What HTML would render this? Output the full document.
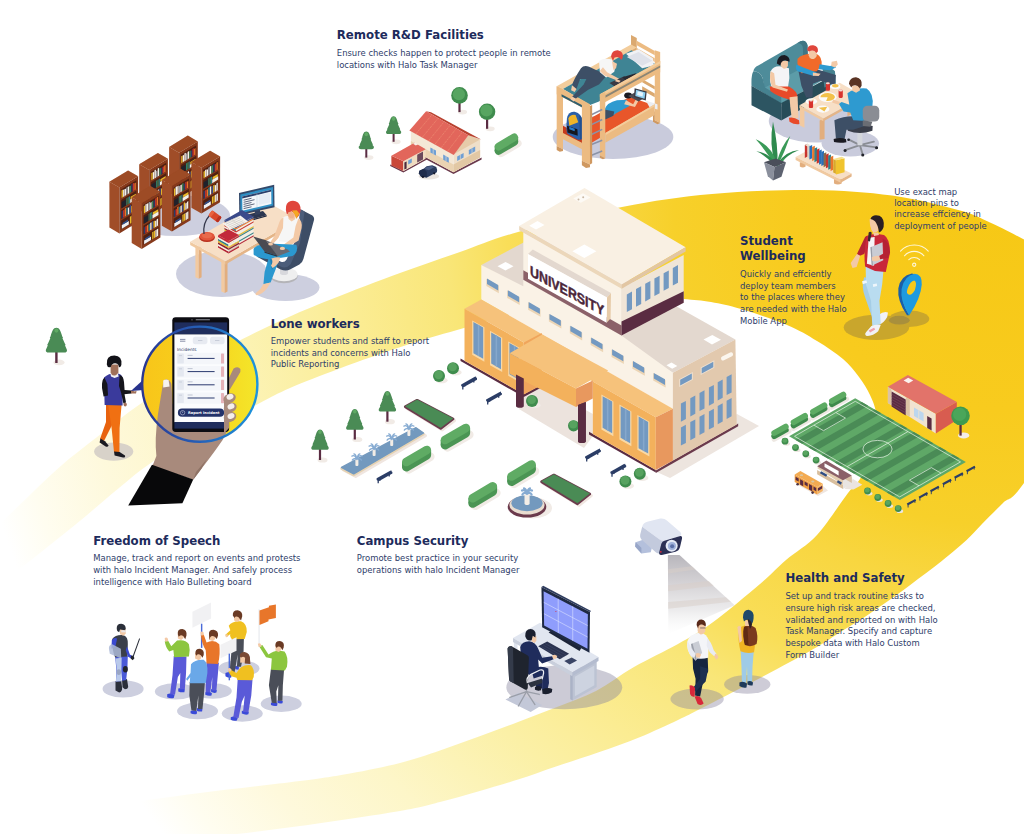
<!DOCTYPE html>
<html lang="en"><head><meta charset="utf-8"><title>Halo University Campus</title>
<style>
html,body{margin:0;padding:0;background:#fff;}
body{width:1024px;height:834px;overflow:hidden;}
svg{display:block;}
text{font-family:"DejaVu Sans","Liberation Sans",sans-serif;}
.h{font-weight:bold;font-size:11.75px;fill:#1d2b5c;}
.b{font-size:8.45px;fill:#2e3d6a;}
</style></head><body>
<svg width="1024" height="834" viewBox="0 0 1024 834">
<!-- swoosh -->
<g>
<defs>
<radialGradient id="sw" gradientUnits="userSpaceOnUse" cx="1000" cy="200" r="1050">
<stop offset="0" stop-color="#f6c815"/>
<stop offset="0.2" stop-color="#f8cb1e"/>
<stop offset="0.31" stop-color="#f7d02a"/>
<stop offset="0.37" stop-color="#f8d640"/>
<stop offset="0.47" stop-color="#f9de58"/>
<stop offset="0.53" stop-color="#f9e678"/>
<stop offset="0.62" stop-color="#fbec92"/>
<stop offset="0.69" stop-color="#fbf0a6"/>
<stop offset="0.8" stop-color="#fdf6c8"/>
<stop offset="0.89" stop-color="#fef9dc"/>
<stop offset="0.96" stop-color="#fffdf0"/>
<stop offset="1" stop-color="#ffffff"/>
</radialGradient>
</defs>
<path d="M-40.0,562.0C-33.3,555.7 -9.9,533.5 0.0,524.0C9.9,514.5 9.7,514.4 19.5,505.0C29.3,495.6 45.6,479.3 58.6,467.9C71.6,456.5 84.0,447.3 97.7,436.6C111.4,425.9 125.2,414.4 140.6,403.8C156.0,393.2 175.1,382.6 190.0,373.0C204.9,363.4 214.8,354.8 230.0,346.0C245.2,337.2 264.0,328.3 281.0,320.5C298.0,312.7 312.2,306.9 332.0,299.0C351.8,291.1 378.7,280.8 400.0,273.0C421.3,265.2 440.3,258.8 460.0,252.0C479.7,245.2 491.0,239.5 518.0,232.0C545.0,224.5 589.7,213.3 622.0,207.0C654.3,200.7 680.3,196.8 712.0,194.0C743.7,191.2 782.0,189.7 812.0,190.0C842.0,190.3 867.3,192.2 892.0,195.6C916.7,199.0 943.7,206.1 960.0,210.6C976.3,215.1 979.3,217.8 990.0,222.6C1000.7,227.4 1007.3,230.8 1024.0,239.5C1040.7,248.2 1079.0,269.1 1090.0,275.0L1090.0,380.0C1079.0,397.2 1038.5,462.5 1024.0,483.0C1009.5,503.5 1010.0,496.2 1003.0,503.0C996.0,509.8 988.1,517.8 982.0,524.0C975.9,530.2 972.0,534.9 966.6,540.0C961.2,545.1 954.9,550.2 949.4,554.8C943.9,559.3 939.0,563.3 933.8,567.3C928.5,571.3 923.2,575.1 918.0,579.0C912.8,582.9 907.7,587.0 902.5,590.8C897.3,594.6 892.2,598.1 887.0,601.7C881.8,605.4 876.2,609.2 871.0,612.7C865.8,616.2 860.8,619.5 855.6,622.8C850.4,626.0 846.4,628.2 840.0,632.2C833.6,636.2 827.3,641.0 817.0,647.0C806.7,653.0 791.0,661.5 778.0,668.5C765.0,675.5 752.0,682.2 739.0,689.0C726.0,695.8 710.2,703.8 700.0,709.0C689.8,714.2 688.2,715.2 678.0,720.0C667.8,724.8 652.3,732.1 639.0,737.5C625.7,742.9 611.8,747.7 598.0,752.5C584.2,757.3 569.3,762.0 556.0,766.5C542.7,771.0 531.0,775.4 518.0,779.6C505.0,783.8 491.0,787.8 478.0,791.5C465.0,795.2 453.0,798.8 440.0,802.0C427.0,805.2 423.3,807.0 400.0,811.0C376.7,815.0 333.3,821.5 300.0,826.0C266.7,830.5 233.3,834.7 200.0,838.0C166.7,841.3 140.0,843.7 100.0,846.0C60.0,848.3 -16.7,851.0 -40.0,852.0L-40.0,822.0C-16.7,819.3 60.0,810.8 100.0,806.0C140.0,801.2 166.7,797.2 200.0,793.0C233.3,788.8 275.0,784.2 300.0,781.0C325.0,777.8 333.3,776.5 350.0,773.5C366.7,770.5 385.0,766.8 400.0,763.0C415.0,759.2 426.8,754.9 440.0,750.5C453.2,746.1 466.0,741.2 479.0,736.5C492.0,731.8 505.0,726.9 518.0,722.0C531.0,717.1 544.0,712.2 557.0,707.0C570.0,701.8 583.2,697.7 596.0,691.0C608.8,684.3 620.3,674.8 634.0,667.0C647.7,659.2 664.9,651.4 678.0,644.0C691.1,636.6 698.8,632.5 712.5,622.5C726.2,612.5 747.8,594.4 760.0,584.0C772.2,573.6 776.5,568.2 786.0,560.0C795.5,551.8 806.7,546.2 817.0,535.0C827.3,523.8 840.8,502.3 848.0,493.0C855.2,483.7 856.0,485.3 860.0,479.0C864.0,472.7 869.0,462.8 872.0,455.0C875.0,447.2 877.3,439.2 878.0,432.0C878.7,424.8 877.3,418.2 876.0,412.0C874.7,405.8 872.8,400.8 870.0,395.0C867.2,389.2 863.5,383.0 859.0,377.0C854.5,371.0 850.0,365.0 843.0,359.0C836.0,353.0 826.3,346.7 817.0,341.0C807.7,335.3 799.7,330.3 787.0,325.0C774.3,319.7 753.7,312.8 741.0,309.0C728.3,305.2 720.7,303.7 711.0,302.0C701.3,300.3 694.8,300.0 683.0,299.0C671.2,298.0 653.8,296.2 640.0,296.0C626.2,295.8 613.3,296.7 600.0,298.0C586.7,299.3 573.3,301.7 560.0,304.0C546.7,306.3 536.0,308.0 520.0,312.0C504.0,316.0 482.7,322.6 464.0,328.0C445.3,333.4 428.8,337.8 408.0,344.6C387.2,351.4 358.7,361.5 339.0,368.7C319.3,375.9 303.5,382.1 290.0,388.0C276.5,393.9 273.0,396.3 258.0,404.0C243.0,411.7 217.6,424.3 200.0,434.0C182.4,443.7 166.1,452.8 152.3,462.0C138.5,471.2 129.6,479.3 117.2,489.4C104.8,499.5 90.9,512.0 78.0,522.6C65.1,533.2 53.0,542.8 40.0,553.0C27.0,563.2 13.3,573.8 0.0,584.0C-13.3,594.2 -33.3,609.0 -40.0,614.0Z" fill="url(#sw)"/>
</g>
<!-- library -->
<g>
<ellipse cx="176" cy="215.5" rx="54" ry="20.5" fill="#cdcfdf"/>
<ellipse cx="222" cy="274" rx="46" ry="23" fill="#cdcfdf"/>
<ellipse cx="285.5" cy="287.5" rx="34" ry="13.5" fill="#cdcfdf"/>
<polygon points="169.1,146.9 179.1,152.7 179.1,198.5 169.1,192.7" fill="#a04d28" />
<polygon points="179.1,152.7 197.8,141.4 197.8,187.2 179.1,198.5" fill="#86391b" />
<polygon points="180.8,154.7 196.1,145.4 196.1,154.1 180.8,163.4" fill="#4f2012" />
<polygon points="181.2,156.2 182.6,155.4 182.6,162.3 181.2,163.2" fill="#e9b92a" />
<polygon points="182.8,155.6 184.2,154.8 184.2,161.3 182.8,162.2" fill="#f4f1ea" />
<polygon points="184.4,153.6 185.8,152.8 185.8,160.4 184.4,161.2" fill="#f4f1ea" />
<polygon points="186.0,153.8 187.4,153.0 187.4,159.4 186.0,160.2" fill="#9aa0a8" />
<polygon points="187.6,151.9 189.0,151.1 189.0,158.4 187.6,159.2" fill="#f4f1ea" />
<polygon points="189.3,151.3 190.7,150.4 190.7,157.4 189.3,158.3" fill="#3f8a5a" />
<polygon points="190.9,150.9 192.3,150.1 192.3,156.4 190.9,157.3" fill="#2a3a6a" />
<polygon points="192.5,149.0 193.9,148.2 193.9,155.5 192.5,156.3" fill="#c8342e" />
<polygon points="194.1,149.0 195.5,148.1 195.5,154.5 194.1,155.3" fill="#e8762a" />
<polygon points="180.8,165.0 196.1,155.7 196.1,164.4 180.8,173.7" fill="#4f2012" />
<polygon points="181.3,167.1 185.6,164.5 185.6,170.7 181.3,173.3" fill="#1f222c" />
<polygon points="186.0,163.5 187.0,162.9 187.0,169.9 186.0,170.5" fill="#2f7f6a" />
<polygon points="187.3,162.7 188.4,162.1 188.4,169.1 187.3,169.7" fill="#3f8a5a" />
<polygon points="188.6,161.9 189.7,161.3 189.7,168.3 188.6,168.9" fill="#2f7f8a" />
<polygon points="190.3,161.9 195.6,158.8 195.6,161.4 190.3,164.5" fill="#e9b92a" />
<polygon points="189.9,164.7 195.9,161.1 195.9,164.5 189.9,168.1" fill="#f4f1ea" />
<polygon points="180.8,175.3 196.1,166.0 196.1,174.7 180.8,184.0" fill="#4f2012" />
<polygon points="181.2,176.6 182.6,175.8 182.6,182.9 181.2,183.8" fill="#2a3a6a" />
<polygon points="182.8,176.4 184.2,175.5 184.2,181.9 182.8,182.8" fill="#c8342e" />
<polygon points="184.4,175.4 185.8,174.5 185.8,181.0 184.4,181.8" fill="#e8762a" />
<polygon points="186.0,173.7 187.4,172.9 187.4,180.0 186.0,180.8" fill="#2f7f8a" />
<polygon points="187.6,171.9 189.0,171.1 189.0,179.0 187.6,179.8" fill="#f4f1ea" />
<polygon points="189.3,172.3 190.7,171.5 190.7,178.0 189.3,178.9" fill="#3a4a8a" />
<polygon points="190.9,171.2 192.3,170.3 192.3,177.0 190.9,177.9" fill="#e9b92a" />
<polygon points="192.5,169.4 193.9,168.5 193.9,176.1 192.5,176.9" fill="#f4f1ea" />
<polygon points="194.1,167.8 195.5,166.9 195.5,175.1 194.1,175.9" fill="#f4f1ea" />
<polygon points="180.8,185.6 196.1,176.3 196.1,185.0 180.8,194.3" fill="#4f2012" />
<polygon points="181.5,190.2 188.4,186.0 188.4,189.6 181.5,193.8" fill="#eef0f4" />
<polygon points="182.3,188.0 187.7,184.7 187.7,186.5 182.3,189.8" fill="#2f4f8a" />
<polygon points="189.6,181.8 190.9,181.0 190.9,188.2 189.6,189.0" fill="#e9b92a" />
<polygon points="191.2,180.8 192.5,180.0 192.5,187.2 191.2,188.0" fill="#e9b92a" />
<polygon points="192.8,179.9 194.1,179.1 194.1,186.3 192.8,187.1" fill="#f4f1ea" />
<polygon points="194.3,178.9 195.6,178.1 195.6,185.3 194.3,186.1" fill="#f4f1ea" />
<polygon points="169.1,146.9 187.8,135.6 197.8,141.4 179.1,152.7" fill="#97461f" />
<polygon points="169.1,146.9 187.8,135.6 197.8,141.4 179.1,152.7" fill="#a85630" opacity="0.35"/>
<polygon points="139.2,164.2 149.2,170.0 149.2,215.8 139.2,210.0" fill="#a04d28" />
<polygon points="149.2,170.0 167.9,158.7 167.9,204.5 149.2,215.8" fill="#86391b" />
<polygon points="150.9,172.0 166.2,162.7 166.2,171.4 150.9,180.7" fill="#4f2012" />
<polygon points="151.3,173.0 152.7,172.2 152.7,179.6 151.3,180.5" fill="#e9b92a" />
<polygon points="152.9,172.4 154.3,171.6 154.3,178.6 152.9,179.5" fill="#f4f1ea" />
<polygon points="154.5,170.3 155.9,169.4 155.9,177.7 154.5,178.5" fill="#f4f1ea" />
<polygon points="156.1,171.2 157.5,170.3 157.5,176.7 156.1,177.5" fill="#9aa0a8" />
<polygon points="157.7,168.6 159.1,167.7 159.1,175.7 157.7,176.5" fill="#f4f1ea" />
<polygon points="159.4,168.7 160.8,167.9 160.8,174.7 159.4,175.6" fill="#3f8a5a" />
<polygon points="161.0,168.0 162.4,167.2 162.4,173.7 161.0,174.6" fill="#2a3a6a" />
<polygon points="162.6,167.1 164.0,166.3 164.0,172.8 162.6,173.6" fill="#c8342e" />
<polygon points="164.2,165.7 165.6,164.9 165.6,171.8 164.2,172.6" fill="#e8762a" />
<polygon points="150.9,182.3 166.2,173.0 166.2,181.7 150.9,191.0" fill="#4f2012" />
<polygon points="151.4,184.4 155.7,181.8 155.7,188.0 151.4,190.6" fill="#1f222c" />
<polygon points="156.1,180.8 157.1,180.2 157.1,187.2 156.1,187.8" fill="#2f7f6a" />
<polygon points="157.4,180.0 158.5,179.4 158.5,186.4 157.4,187.0" fill="#3f8a5a" />
<polygon points="158.7,179.2 159.8,178.6 159.8,185.6 158.7,186.2" fill="#2f7f8a" />
<polygon points="160.4,179.2 165.7,176.1 165.7,178.7 160.4,181.8" fill="#e9b92a" />
<polygon points="160.0,182.0 166.0,178.4 166.0,181.8 160.0,185.4" fill="#f4f1ea" />
<polygon points="150.9,192.6 166.2,183.3 166.2,192.0 150.9,201.3" fill="#4f2012" />
<polygon points="151.3,193.2 152.7,192.3 152.7,200.2 151.3,201.1" fill="#2a3a6a" />
<polygon points="152.9,193.5 154.3,192.6 154.3,199.2 152.9,200.1" fill="#c8342e" />
<polygon points="154.5,191.7 155.9,190.8 155.9,198.3 154.5,199.1" fill="#e8762a" />
<polygon points="156.1,190.6 157.5,189.7 157.5,197.3 156.1,198.1" fill="#2f7f8a" />
<polygon points="157.7,190.1 159.1,189.3 159.1,196.3 157.7,197.1" fill="#f4f1ea" />
<polygon points="159.4,188.8 160.8,188.0 160.8,195.3 159.4,196.2" fill="#3a4a8a" />
<polygon points="161.0,188.8 162.4,187.9 162.4,194.3 161.0,195.2" fill="#e9b92a" />
<polygon points="162.6,187.8 164.0,187.0 164.0,193.4 162.6,194.2" fill="#f4f1ea" />
<polygon points="164.2,186.5 165.6,185.7 165.6,192.4 164.2,193.2" fill="#f4f1ea" />
<polygon points="150.9,202.9 166.2,193.6 166.2,202.3 150.9,211.6" fill="#4f2012" />
<polygon points="151.6,207.5 158.5,203.3 158.5,206.9 151.6,211.1" fill="#eef0f4" />
<polygon points="152.4,205.3 157.8,202.0 157.8,203.8 152.4,207.1" fill="#2f4f8a" />
<polygon points="159.7,199.1 161.0,198.3 161.0,205.5 159.7,206.3" fill="#e9b92a" />
<polygon points="161.3,198.1 162.6,197.3 162.6,204.5 161.3,205.3" fill="#e9b92a" />
<polygon points="162.9,197.2 164.2,196.4 164.2,203.6 162.9,204.4" fill="#f4f1ea" />
<polygon points="164.4,196.2 165.7,195.4 165.7,202.6 164.4,203.4" fill="#f4f1ea" />
<polygon points="139.2,164.2 157.9,152.9 167.9,158.7 149.2,170.0" fill="#97461f" />
<polygon points="139.2,164.2 157.9,152.9 167.9,158.7 149.2,170.0" fill="#a85630" opacity="0.35"/>
<polygon points="109.4,181.8 119.4,187.6 119.4,233.4 109.4,227.6" fill="#a04d28" />
<polygon points="119.4,187.6 138.1,176.3 138.1,222.1 119.4,233.4" fill="#86391b" />
<polygon points="121.1,189.6 136.4,180.3 136.4,189.0 121.1,198.3" fill="#4f2012" />
<polygon points="121.5,190.4 122.9,189.6 122.9,197.2 121.5,198.1" fill="#e9b92a" />
<polygon points="123.1,190.0 124.5,189.1 124.5,196.2 123.1,197.1" fill="#f4f1ea" />
<polygon points="124.7,189.2 126.1,188.4 126.1,195.3 124.7,196.1" fill="#f4f1ea" />
<polygon points="126.3,187.7 127.7,186.8 127.7,194.3 126.3,195.1" fill="#9aa0a8" />
<polygon points="127.9,187.0 129.3,186.1 129.3,193.3 127.9,194.1" fill="#f4f1ea" />
<polygon points="129.6,186.3 131.0,185.5 131.0,192.3 129.6,193.2" fill="#3f8a5a" />
<polygon points="131.2,184.3 132.6,183.5 132.6,191.3 131.2,192.2" fill="#2a3a6a" />
<polygon points="132.8,183.5 134.2,182.7 134.2,190.4 132.8,191.2" fill="#c8342e" />
<polygon points="134.4,183.5 135.8,182.6 135.8,189.4 134.4,190.2" fill="#e8762a" />
<polygon points="121.1,199.9 136.4,190.6 136.4,199.3 121.1,208.6" fill="#4f2012" />
<polygon points="121.6,202.0 125.9,199.4 125.9,205.6 121.6,208.2" fill="#1f222c" />
<polygon points="126.3,198.4 127.3,197.8 127.3,204.8 126.3,205.4" fill="#2f7f6a" />
<polygon points="127.6,197.6 128.7,197.0 128.7,204.0 127.6,204.6" fill="#3f8a5a" />
<polygon points="128.9,196.8 130.0,196.2 130.0,203.2 128.9,203.8" fill="#2f7f8a" />
<polygon points="130.6,196.8 135.9,193.7 135.9,196.3 130.6,199.4" fill="#e9b92a" />
<polygon points="130.2,199.6 136.2,196.0 136.2,199.4 130.2,203.0" fill="#f4f1ea" />
<polygon points="121.1,210.2 136.4,200.9 136.4,209.6 121.1,218.9" fill="#4f2012" />
<polygon points="121.5,211.2 122.9,210.4 122.9,217.8 121.5,218.7" fill="#2a3a6a" />
<polygon points="123.1,210.4 124.5,209.5 124.5,216.8 123.1,217.7" fill="#c8342e" />
<polygon points="124.7,208.7 126.1,207.8 126.1,215.9 124.7,216.7" fill="#e8762a" />
<polygon points="126.3,208.0 127.7,207.2 127.7,214.9 126.3,215.7" fill="#2f7f8a" />
<polygon points="127.9,207.9 129.3,207.1 129.3,213.9 127.9,214.7" fill="#f4f1ea" />
<polygon points="129.6,205.5 131.0,204.7 131.0,212.9 129.6,213.8" fill="#3a4a8a" />
<polygon points="131.2,206.3 132.6,205.4 132.6,211.9 131.2,212.8" fill="#e9b92a" />
<polygon points="132.8,204.7 134.2,203.9 134.2,211.0 132.8,211.8" fill="#f4f1ea" />
<polygon points="134.4,203.0 135.8,202.2 135.8,210.0 134.4,210.8" fill="#f4f1ea" />
<polygon points="121.1,220.5 136.4,211.2 136.4,219.9 121.1,229.2" fill="#4f2012" />
<polygon points="121.8,225.1 128.8,220.9 128.8,224.5 121.8,228.7" fill="#eef0f4" />
<polygon points="122.6,222.9 128.0,219.6 128.0,221.4 122.6,224.7" fill="#2f4f8a" />
<polygon points="129.9,216.7 131.2,215.9 131.2,223.1 129.9,223.9" fill="#e9b92a" />
<polygon points="131.5,215.7 132.8,214.9 132.8,222.1 131.5,222.9" fill="#e9b92a" />
<polygon points="133.1,214.8 134.4,214.0 134.4,221.2 133.1,222.0" fill="#f4f1ea" />
<polygon points="134.6,213.8 135.9,213.0 135.9,220.2 134.6,221.0" fill="#f4f1ea" />
<polygon points="109.4,181.8 128.1,170.5 138.1,176.3 119.4,187.6" fill="#97461f" />
<polygon points="109.4,181.8 128.1,170.5 138.1,176.3 119.4,187.6" fill="#a85630" opacity="0.35"/>
<polygon points="191.4,162.0 201.4,167.8 201.4,213.6 191.4,207.8" fill="#a04d28" />
<polygon points="201.4,167.8 220.1,156.5 220.1,202.3 201.4,213.6" fill="#86391b" />
<polygon points="203.1,169.8 218.4,160.5 218.4,169.2 203.1,178.5" fill="#4f2012" />
<polygon points="203.5,171.7 204.9,170.8 204.9,177.4 203.5,178.3" fill="#e9b92a" />
<polygon points="205.1,170.0 206.5,169.2 206.5,176.4 205.1,177.3" fill="#f4f1ea" />
<polygon points="206.7,170.0 208.1,169.1 208.1,175.5 206.7,176.3" fill="#f4f1ea" />
<polygon points="208.3,167.7 209.7,166.9 209.7,174.5 208.3,175.3" fill="#9aa0a8" />
<polygon points="209.9,166.5 211.3,165.7 211.3,173.5 209.9,174.3" fill="#f4f1ea" />
<polygon points="211.6,165.9 213.0,165.1 213.0,172.5 211.6,173.4" fill="#3f8a5a" />
<polygon points="213.2,164.4 214.6,163.5 214.6,171.5 213.2,172.4" fill="#2a3a6a" />
<polygon points="214.8,164.5 216.2,163.7 216.2,170.6 214.8,171.4" fill="#c8342e" />
<polygon points="216.4,162.8 217.8,161.9 217.8,169.6 216.4,170.4" fill="#e8762a" />
<polygon points="203.1,180.1 218.4,170.8 218.4,179.5 203.1,188.8" fill="#4f2012" />
<polygon points="203.6,182.2 207.9,179.6 207.9,185.8 203.6,188.4" fill="#1f222c" />
<polygon points="208.3,178.6 209.3,178.0 209.3,185.0 208.3,185.6" fill="#2f7f6a" />
<polygon points="209.6,177.8 210.7,177.2 210.7,184.2 209.6,184.8" fill="#3f8a5a" />
<polygon points="210.9,177.0 212.0,176.4 212.0,183.4 210.9,184.0" fill="#2f7f8a" />
<polygon points="212.6,177.0 217.9,173.9 217.9,176.5 212.6,179.6" fill="#e9b92a" />
<polygon points="212.2,179.8 218.2,176.2 218.2,179.6 212.2,183.2" fill="#f4f1ea" />
<polygon points="203.1,190.4 218.4,181.1 218.4,189.8 203.1,199.1" fill="#4f2012" />
<polygon points="203.5,191.4 204.9,190.6 204.9,198.0 203.5,198.9" fill="#2a3a6a" />
<polygon points="205.1,190.5 206.5,189.6 206.5,197.0 205.1,197.9" fill="#c8342e" />
<polygon points="206.7,189.7 208.1,188.9 208.1,196.1 206.7,196.9" fill="#e8762a" />
<polygon points="208.3,188.0 209.7,187.1 209.7,195.1 208.3,195.9" fill="#2f7f8a" />
<polygon points="209.9,186.8 211.3,185.9 211.3,194.1 209.9,194.9" fill="#f4f1ea" />
<polygon points="211.6,186.7 213.0,185.9 213.0,193.1 211.6,194.0" fill="#3a4a8a" />
<polygon points="213.2,185.4 214.6,184.5 214.6,192.1 213.2,193.0" fill="#e9b92a" />
<polygon points="214.8,185.6 216.2,184.8 216.2,191.2 214.8,192.0" fill="#f4f1ea" />
<polygon points="216.4,183.4 217.8,182.5 217.8,190.2 216.4,191.0" fill="#f4f1ea" />
<polygon points="203.1,200.7 218.4,191.4 218.4,200.1 203.1,209.4" fill="#4f2012" />
<polygon points="203.8,205.3 210.8,201.2 210.8,204.8 203.8,208.9" fill="#eef0f4" />
<polygon points="204.6,203.1 210.0,199.8 210.0,201.6 204.6,204.9" fill="#2f4f8a" />
<polygon points="211.9,196.9 213.2,196.1 213.2,203.3 211.9,204.1" fill="#e9b92a" />
<polygon points="213.5,195.9 214.8,195.1 214.8,202.3 213.5,203.1" fill="#e9b92a" />
<polygon points="215.1,195.0 216.4,194.2 216.4,201.4 215.1,202.2" fill="#f4f1ea" />
<polygon points="216.6,194.0 217.9,193.2 217.9,200.4 216.6,201.2" fill="#f4f1ea" />
<polygon points="191.4,162.0 210.1,150.7 220.1,156.5 201.4,167.8" fill="#97461f" />
<polygon points="191.4,162.0 210.1,150.7 220.1,156.5 201.4,167.8" fill="#a85630" opacity="0.35"/>
<polygon points="161.9,180.0 171.9,185.8 171.9,231.6 161.9,225.8" fill="#a04d28" />
<polygon points="171.9,185.8 190.6,174.5 190.6,220.3 171.9,231.6" fill="#86391b" />
<polygon points="173.6,187.8 188.9,178.5 188.9,187.2 173.6,196.5" fill="#4f2012" />
<polygon points="174.0,188.7 175.4,187.9 175.4,195.4 174.0,196.3" fill="#e9b92a" />
<polygon points="175.6,187.0 177.0,186.2 177.0,194.4 175.6,195.3" fill="#f4f1ea" />
<polygon points="177.2,186.4 178.6,185.5 178.6,193.5 177.2,194.3" fill="#f4f1ea" />
<polygon points="178.8,186.5 180.2,185.6 180.2,192.5 178.8,193.3" fill="#9aa0a8" />
<polygon points="180.4,185.3 181.8,184.5 181.8,191.5 180.4,192.3" fill="#f4f1ea" />
<polygon points="182.1,183.8 183.5,182.9 183.5,190.5 182.1,191.4" fill="#3f8a5a" />
<polygon points="183.7,184.1 185.1,183.2 185.1,189.5 183.7,190.4" fill="#2a3a6a" />
<polygon points="185.3,182.2 186.7,181.4 186.7,188.6 185.3,189.4" fill="#c8342e" />
<polygon points="186.9,181.8 188.3,181.0 188.3,187.6 186.9,188.4" fill="#e8762a" />
<polygon points="173.6,198.1 188.9,188.8 188.9,197.5 173.6,206.8" fill="#4f2012" />
<polygon points="174.1,200.2 178.4,197.6 178.4,203.8 174.1,206.4" fill="#1f222c" />
<polygon points="178.8,196.6 179.8,196.0 179.8,203.0 178.8,203.6" fill="#2f7f6a" />
<polygon points="180.1,195.8 181.2,195.2 181.2,202.2 180.1,202.8" fill="#3f8a5a" />
<polygon points="181.4,195.0 182.5,194.4 182.5,201.4 181.4,202.0" fill="#2f7f8a" />
<polygon points="183.1,195.0 188.4,191.9 188.4,194.5 183.1,197.6" fill="#e9b92a" />
<polygon points="182.7,197.8 188.7,194.2 188.7,197.6 182.7,201.2" fill="#f4f1ea" />
<polygon points="173.6,208.4 188.9,199.1 188.9,207.8 173.6,217.1" fill="#4f2012" />
<polygon points="174.0,210.4 175.4,209.5 175.4,216.0 174.0,216.9" fill="#2a3a6a" />
<polygon points="175.6,209.5 177.0,208.7 177.0,215.0 175.6,215.9" fill="#c8342e" />
<polygon points="177.2,207.1 178.6,206.3 178.6,214.1 177.2,214.9" fill="#e8762a" />
<polygon points="178.8,207.4 180.2,206.6 180.2,213.1 178.8,213.9" fill="#2f7f8a" />
<polygon points="180.4,206.2 181.8,205.3 181.8,212.1 180.4,212.9" fill="#f4f1ea" />
<polygon points="182.1,204.9 183.5,204.1 183.5,211.1 182.1,212.0" fill="#3a4a8a" />
<polygon points="183.7,203.0 185.1,202.1 185.1,210.1 183.7,211.0" fill="#e9b92a" />
<polygon points="185.3,203.6 186.7,202.7 186.7,209.2 185.3,210.0" fill="#f4f1ea" />
<polygon points="186.9,201.9 188.3,201.0 188.3,208.2 186.9,209.0" fill="#f4f1ea" />
<polygon points="173.6,218.7 188.9,209.4 188.9,218.1 173.6,227.4" fill="#4f2012" />
<polygon points="174.3,223.3 181.2,219.2 181.2,222.8 174.3,226.9" fill="#eef0f4" />
<polygon points="175.1,221.1 180.5,217.8 180.5,219.6 175.1,222.9" fill="#2f4f8a" />
<polygon points="182.4,214.9 183.7,214.1 183.7,221.3 182.4,222.1" fill="#e9b92a" />
<polygon points="184.0,213.9 185.3,213.1 185.3,220.3 184.0,221.1" fill="#e9b92a" />
<polygon points="185.6,213.0 186.9,212.2 186.9,219.4 185.6,220.2" fill="#f4f1ea" />
<polygon points="187.1,212.0 188.4,211.2 188.4,218.4 187.1,219.2" fill="#f4f1ea" />
<polygon points="161.9,180.0 180.6,168.7 190.6,174.5 171.9,185.8" fill="#97461f" />
<polygon points="161.9,180.0 180.6,168.7 190.6,174.5 171.9,185.8" fill="#a85630" opacity="0.35"/>
<polygon points="131.7,197.3 141.7,203.1 141.7,248.9 131.7,243.1" fill="#a04d28" />
<polygon points="141.7,203.1 160.4,191.8 160.4,237.6 141.7,248.9" fill="#86391b" />
<polygon points="143.4,205.1 158.7,195.8 158.7,204.5 143.4,213.8" fill="#4f2012" />
<polygon points="143.8,206.2 145.2,205.3 145.2,212.7 143.8,213.6" fill="#e9b92a" />
<polygon points="145.4,204.5 146.8,203.7 146.8,211.7 145.4,212.6" fill="#f4f1ea" />
<polygon points="147.0,203.7 148.4,202.9 148.4,210.8 147.0,211.6" fill="#f4f1ea" />
<polygon points="148.6,202.6 150.0,201.8 150.0,209.8 148.6,210.6" fill="#9aa0a8" />
<polygon points="150.2,202.8 151.6,202.0 151.6,208.8 150.2,209.6" fill="#f4f1ea" />
<polygon points="151.9,201.6 153.3,200.7 153.3,207.8 151.9,208.7" fill="#3f8a5a" />
<polygon points="153.5,200.7 154.9,199.9 154.9,206.8 153.5,207.7" fill="#2a3a6a" />
<polygon points="155.1,198.7 156.5,197.8 156.5,205.9 155.1,206.7" fill="#c8342e" />
<polygon points="156.7,197.5 158.1,196.7 158.1,204.9 156.7,205.7" fill="#e8762a" />
<polygon points="143.4,215.4 158.7,206.1 158.7,214.8 143.4,224.1" fill="#4f2012" />
<polygon points="143.9,217.5 148.2,214.9 148.2,221.1 143.9,223.7" fill="#1f222c" />
<polygon points="148.6,213.9 149.6,213.3 149.6,220.3 148.6,220.9" fill="#2f7f6a" />
<polygon points="149.9,213.1 151.0,212.5 151.0,219.5 149.9,220.1" fill="#3f8a5a" />
<polygon points="151.2,212.3 152.3,211.7 152.3,218.7 151.2,219.3" fill="#2f7f8a" />
<polygon points="152.9,212.3 158.2,209.2 158.2,211.8 152.9,214.9" fill="#e9b92a" />
<polygon points="152.5,215.1 158.5,211.5 158.5,214.9 152.5,218.5" fill="#f4f1ea" />
<polygon points="143.4,225.7 158.7,216.4 158.7,225.1 143.4,234.4" fill="#4f2012" />
<polygon points="143.8,227.6 145.2,226.7 145.2,233.3 143.8,234.2" fill="#2a3a6a" />
<polygon points="145.4,226.6 146.8,225.7 146.8,232.3 145.4,233.2" fill="#c8342e" />
<polygon points="147.0,225.5 148.4,224.6 148.4,231.4 147.0,232.2" fill="#e8762a" />
<polygon points="148.6,224.5 150.0,223.6 150.0,230.4 148.6,231.2" fill="#2f7f8a" />
<polygon points="150.2,223.0 151.6,222.2 151.6,229.4 150.2,230.2" fill="#f4f1ea" />
<polygon points="151.9,221.8 153.3,221.0 153.3,228.4 151.9,229.3" fill="#3a4a8a" />
<polygon points="153.5,221.5 154.9,220.6 154.9,227.4 153.5,228.3" fill="#e9b92a" />
<polygon points="155.1,221.0 156.5,220.2 156.5,226.5 155.1,227.3" fill="#f4f1ea" />
<polygon points="156.7,219.2 158.1,218.4 158.1,225.5 156.7,226.3" fill="#f4f1ea" />
<polygon points="143.4,236.0 158.7,226.7 158.7,235.4 143.4,244.7" fill="#4f2012" />
<polygon points="144.1,240.6 151.0,236.4 151.0,240.0 144.1,244.2" fill="#eef0f4" />
<polygon points="144.9,238.4 150.3,235.1 150.3,236.9 144.9,240.2" fill="#2f4f8a" />
<polygon points="152.2,232.2 153.5,231.4 153.5,238.6 152.2,239.4" fill="#e9b92a" />
<polygon points="153.8,231.2 155.1,230.4 155.1,237.6 153.8,238.4" fill="#e9b92a" />
<polygon points="155.4,230.3 156.7,229.5 156.7,236.7 155.4,237.5" fill="#f4f1ea" />
<polygon points="156.9,229.3 158.2,228.5 158.2,235.7 156.9,236.5" fill="#f4f1ea" />
<polygon points="131.7,197.3 150.4,186.0 160.4,191.8 141.7,203.1" fill="#97461f" />
<polygon points="131.7,197.3 150.4,186.0 160.4,191.8 141.7,203.1" fill="#a85630" opacity="0.35"/>
<polygon points="258.0,222.0 261.4,223.6 261.4,253.6 258.0,252.0" fill="#f3caa0" />
<polygon points="261.4,223.6 264.2,222.0 264.2,252.0 261.4,253.6" fill="#e2ae7e" />
<polygon points="195.4,245.0 198.8,246.6 198.8,278.8 195.4,277.2" fill="#f3caa0" />
<polygon points="198.8,246.6 201.6,245.0 201.6,277.2 198.8,278.8" fill="#e2ae7e" />
<polygon points="221.3,260.0 224.7,261.6 224.7,293.0 221.3,291.4" fill="#f3caa0" />
<polygon points="224.7,261.6 227.5,260.0 227.5,291.4 224.7,293.0" fill="#e2ae7e" />
<polygon points="190.2,241.7 225.5,261.2 225.5,264.4 190.2,244.9" fill="#f0c9a0" />
<polygon points="225.5,261.2 298.2,219.2 298.2,222.4 225.5,264.4" fill="#e4b588" />
<polygon points="190.2,241.7 263.0,199.7 298.2,219.2 225.5,261.2" fill="#f7dfc6" />
<ellipse cx="207" cy="237.6" rx="7.9" ry="4.5" fill="#b8301f"/>
<ellipse cx="207" cy="236.2" rx="7.6" ry="4.2" fill="#e2553a"/>
<ellipse cx="207" cy="235.6" rx="5" ry="2.6" fill="#e96a4c"/>
<path d="M204,234C203,226 204.5,221 209.5,215.5" stroke="#33364a" stroke-width="1.2" fill="none"/>
<g transform="translate(215,216.4) rotate(36)"><rect x="-6" y="-3.4" width="12" height="6.8" rx="1.6" fill="#d9472a"/><rect x="-6" y="-3.4" width="3.2" height="6.8" rx="1.4" fill="#e8623f"/><rect x="3" y="-3.4" width="3" height="6.8" rx="1.4" fill="#b8301f"/></g>
<polygon points="248.7,214.3 263.0,211.0 266.7,215.2 252.5,219.2" fill="#2b3650" />
<polygon points="248.7,214.3 252.5,219.2 252.5,220.4 248.7,215.5" fill="#1f2840" />
<polygon points="252.5,219.2 266.7,215.2 266.7,216.4 252.5,220.4" fill="#1f2840" />
<polygon points="254.8,209.0 260.0,207.8 260.0,214.0 254.8,215.2" fill="#34415e" />
<polygon points="239.0,193.0 274.2,184.7 274.5,207.2 239.3,215.2" fill="#34496a" />
<polygon points="240.3,194.6 273.0,186.9 273.2,205.6 240.5,213.2" fill="#2f8fc4" />
<polygon points="242.2,196.6 271.2,189.8 271.4,204.0 242.4,210.8" fill="#f3f7fb" />
<polygon points="242.2,196.6 271.2,189.8 271.2,191.6 242.2,198.4" fill="#2b3f6a" />
<path d="M243.6,200.2L251.5,198.3" stroke="#39435e" stroke-width="0.8"/>
<path d="M243.6,202.3L254.5,199.7" stroke="#39435e" stroke-width="0.8"/>
<path d="M243.6,204.4L251.5,202.5" stroke="#39435e" stroke-width="0.8"/>
<path d="M243.6,206.5L254.5,203.9" stroke="#39435e" stroke-width="0.8"/>
<path d="M243.6,208.6L251.5,206.8" stroke="#39435e" stroke-width="0.8"/>
<path d="M257,193.4V207.2" stroke="#c5d3e2" stroke-width="0.6"/>
<polygon points="258.6,195.2 270.0,192.6 270.0,202.4 258.6,205.0" fill="#e6edf5" />
<polygon points="224.5,238.6 236.0,245.0 236.0,246.5 224.5,240.2" fill="#b22234" />
<polygon points="236.0,245.0 253.5,235.0 253.5,236.5 236.0,246.5" fill="#b22234" />
<polygon points="236.0,245.0 253.5,235.0 253.5,235.5 236.0,245.5" fill="#f3efe6" opacity="0.55"/>
<polygon points="224.5,237.1 236.0,243.4 236.0,245.0 224.5,238.6" fill="#e9b92a" />
<polygon points="236.0,243.4 253.5,233.4 253.5,235.0 236.0,245.0" fill="#f3efe6" />
<polygon points="236.0,243.4 253.5,233.4 253.5,234.0 236.0,244.0" fill="#f3efe6" opacity="0.55"/>
<polygon points="224.5,235.5 236.0,241.9 236.0,243.4 224.5,237.1" fill="#2f7f8a" />
<polygon points="236.0,241.9 253.5,231.9 253.5,233.4 236.0,243.4" fill="#2f7f8a" />
<polygon points="236.0,241.9 253.5,231.9 253.5,232.4 236.0,242.4" fill="#f3efe6" opacity="0.55"/>
<polygon points="224.5,234.0 236.0,240.3 236.0,241.9 224.5,235.5" fill="#f3efe6" />
<polygon points="236.0,240.3 253.5,230.3 253.5,231.9 236.0,241.9" fill="#f3efe6" />
<polygon points="236.0,240.3 253.5,230.3 253.5,230.9 236.0,240.9" fill="#f3efe6" opacity="0.55"/>
<polygon points="224.5,232.4 236.0,238.8 236.0,240.3 224.5,234.0" fill="#c8342e" />
<polygon points="236.0,238.8 253.5,228.8 253.5,230.3 236.0,240.3" fill="#f3efe6" />
<polygon points="236.0,238.8 253.5,228.8 253.5,229.3 236.0,239.3" fill="#f3efe6" opacity="0.55"/>
<polygon points="224.5,230.9 236.0,237.2 236.0,238.8 224.5,232.4" fill="#2f7f8a" />
<polygon points="236.0,237.2 253.5,227.2 253.5,228.8 236.0,238.8" fill="#2f7f8a" />
<polygon points="236.0,237.2 253.5,227.2 253.5,227.8 236.0,237.8" fill="#f3efe6" opacity="0.55"/>
<polygon points="224.5,229.3 236.0,235.7 236.0,237.2 224.5,230.9" fill="#e9b92a" />
<polygon points="236.0,235.7 253.5,225.7 253.5,227.2 236.0,237.2" fill="#e9b92a" />
<polygon points="236.0,235.7 253.5,225.7 253.5,226.2 236.0,236.2" fill="#f3efe6" opacity="0.55"/>
<polygon points="224.5,227.8 236.0,234.1 236.0,235.7 224.5,229.3" fill="#8a2332" />
<polygon points="236.0,234.1 253.5,224.1 253.5,225.7 236.0,235.7" fill="#f3efe6" />
<polygon points="236.0,234.1 253.5,224.1 253.5,224.7 236.0,234.7" fill="#f3efe6" opacity="0.55"/>
<polygon points="224.5,226.2 236.0,232.6 236.0,234.1 224.5,227.8" fill="#f3efe6" />
<polygon points="236.0,232.6 253.5,222.6 253.5,224.1 236.0,234.1" fill="#f3efe6" />
<polygon points="236.0,232.6 253.5,222.6 253.5,223.1 236.0,233.1" fill="#f3efe6" opacity="0.55"/>
<polygon points="224.5,224.7 236.0,231.0 236.0,232.6 224.5,226.2" fill="#c8342e" />
<polygon points="236.0,231.0 253.5,221.0 253.5,222.6 236.0,232.6" fill="#c8342e" />
<polygon points="236.0,231.0 253.5,221.0 253.5,221.6 236.0,231.6" fill="#f3efe6" opacity="0.55"/>
<polygon points="224.5,223.1 236.0,229.5 236.0,231.0 224.5,224.7" fill="#2f7f8a" />
<polygon points="236.0,229.5 253.5,219.5 253.5,221.0 236.0,231.0" fill="#f3efe6" />
<polygon points="236.0,229.5 253.5,219.5 253.5,220.0 236.0,230.0" fill="#f3efe6" opacity="0.55"/>
<polygon points="224.5,221.6 236.0,227.9 236.0,229.5 224.5,223.1" fill="#e8762a" />
<polygon points="236.0,227.9 253.5,217.9 253.5,219.5 236.0,229.5" fill="#e8762a" />
<polygon points="236.0,227.9 253.5,217.9 253.5,218.5 236.0,228.5" fill="#f3efe6" opacity="0.55"/>
<polygon points="224.5,220.0 236.0,226.4 236.0,227.9 224.5,221.6" fill="#3a4a8a" />
<polygon points="236.0,226.4 253.5,216.4 253.5,217.9 236.0,227.9" fill="#3a4a8a" />
<polygon points="236.0,226.4 253.5,216.4 253.5,216.9 236.0,226.9" fill="#f3efe6" opacity="0.55"/>
<polygon points="224.5,220.0 242.0,210.1 253.5,216.4 236.0,226.4" fill="#3a4a8a" />
<polygon points="222.6,223.6 240.4,215.4 248.0,221.4 230.0,229.8" fill="#f6f3ee" />
<path d="M226,224.2l14,-6.4M227.6,225.6l14,-6.4M229.2,227l14,-6.4M230.6,228.2l14,-6.4M224.6,223l14,-6.4" stroke="#b9b6b2" stroke-width="0.5"/>
<path d="M231.5,219.4l7.6,6" stroke="#cfcac2" stroke-width="0.6"/>
<polygon points="218.0,245.8 228.5,251.6 228.5,253.4 218.0,247.6" fill="#b22234" />
<polygon points="228.5,251.6 239.0,245.6 239.0,247.4 228.5,253.4" fill="#b22234" />
<polygon points="228.5,251.6 239.0,245.6 239.0,246.3 228.5,252.2" fill="#f3efe6" opacity="0.55"/>
<polygon points="218.0,244.1 228.5,249.9 228.5,251.6 218.0,245.8" fill="#f3efe6" />
<polygon points="228.5,249.9 239.0,243.9 239.0,245.6 228.5,251.6" fill="#d9d3c6" />
<polygon points="228.5,249.9 239.0,243.9 239.0,244.5 228.5,250.5" fill="#f3efe6" opacity="0.55"/>
<polygon points="218.0,242.3 228.5,248.1 228.5,249.9 218.0,244.1" fill="#8a2332" />
<polygon points="228.5,248.1 239.0,242.1 239.0,243.9 228.5,249.9" fill="#8a2332" />
<polygon points="228.5,248.1 239.0,242.1 239.0,242.8 228.5,248.7" fill="#f3efe6" opacity="0.55"/>
<polygon points="218.0,240.6 228.5,246.4 228.5,248.1 218.0,242.3" fill="#e9b92a" />
<polygon points="228.5,246.4 239.0,240.4 239.0,242.1 228.5,248.1" fill="#e9b92a" />
<polygon points="228.5,246.4 239.0,240.4 239.0,241.0 228.5,247.0" fill="#f3efe6" opacity="0.55"/>
<polygon points="218.0,238.8 228.5,244.6 228.5,246.4 218.0,240.6" fill="#2f7f8a" />
<polygon points="228.5,244.6 239.0,238.6 239.0,240.4 228.5,246.4" fill="#f3efe6" />
<polygon points="228.5,244.6 239.0,238.6 239.0,239.3 228.5,245.2" fill="#f3efe6" opacity="0.55"/>
<polygon points="218.0,237.1 228.5,242.9 228.5,244.6 218.0,238.8" fill="#f3efe6" />
<polygon points="228.5,242.9 239.0,236.9 239.0,238.6 228.5,244.6" fill="#f3efe6" />
<polygon points="228.5,242.9 239.0,236.9 239.0,237.5 228.5,243.5" fill="#f3efe6" opacity="0.55"/>
<polygon points="218.0,235.3 228.5,241.1 228.5,242.9 218.0,237.1" fill="#c22a3a" />
<polygon points="228.5,241.1 239.0,235.1 239.0,236.9 228.5,242.9" fill="#c22a3a" />
<polygon points="228.5,241.1 239.0,235.1 239.0,235.8 228.5,241.7" fill="#f3efe6" opacity="0.55"/>
<polygon points="218.0,235.3 228.5,229.4 239.0,235.1 228.5,241.1" fill="#c22a3a" />
<ellipse cx="284" cy="276.3" rx="13.6" ry="6.9" fill="#b4b4b8"/>
<ellipse cx="284" cy="274.4" rx="13.6" ry="6.9" fill="#efefef"/>
<path d="M280,262h8v11a4,2 0 0 1 -8,0z" fill="#d8d8dc"/>
<path d="M300.4,209.2L312.4,215.4Q314.6,217 314,220L303.4,259Q302.6,262.4 299.4,264.4L290,269.6Q286,271.6 280.6,269.6L257,256.8L259.6,254.6L280,264.4Q283.6,265.8 286.6,262.2L296,241.6L300.6,219Z" fill="#3d4d66"/>
<path d="M300.4,209.2L304.6,211.4L300,243L290.6,264.2Q286.4,269 281,266.8L259.6,254.6L262,253L281,261.8Q284.6,262.8 286.6,259.4L296,239Z" fill="#4b5d7a"/>
<path d="M282.6,217.4Q289,213.6 299.6,218.4Q301.6,225 297.6,232.2L291,242.6L279,241.2Q280.4,232 281.6,226Z" fill="#f6f6f6"/>
<path d="M287.8,212.8h8.4l-1.2,6.4l-3.4,2.4l-3,-2.6z" fill="#f3c9a6"/>
<path d="M298.4,218.6Q302.6,221 301.6,228L298.6,240.4L283.4,249.6L281,246.6L293.4,237.4L295.6,226Z" fill="#f3c9a6"/>
<path d="M283.4,217.6Q280,219 278.4,225L274.4,236L269.4,243.4L272,245L278.4,238L283,228Z" fill="#f3c9a6"/>
<path d="M253.6,249Q256,244.6 268,243.6L296.4,244.8Q298.6,252 292.6,256L270,259.4Q258,258.6 253.6,254.4Z" fill="#2b98cf"/>
<path d="M268.4,258.8L278.6,261.6L270.6,282.6L263.4,284.4L264.6,272Z" fill="#2b98cf"/>
<path d="M270,259.4L276.6,261L272,270Z" fill="#1f7fb3"/>
<path d="M271.4,258.6Q277,256.6 280.4,257.6L278.6,262.6Q275.6,266.6 272.6,268L271,265.6Q273.6,262 271.4,258.6Z" fill="#f3c9a6"/>
<path d="M263.4,284L270.6,282.4L267,288.6Q262,294.6 256.6,295.2Q254.4,294.2 256.4,292.6Q261,289.6 263.4,284Z" fill="#f3c9a6"/>
<polygon points="266.0,240.2 287.0,249.2 290.0,251.5 277.2,256.4" fill="#6a6a72" />
<polygon points="253.2,236.5 266.0,240.2 277.2,255.6 264.5,251.5" fill="#4a4a52" />
<polygon points="264.5,251.5 277.2,255.6 277.2,256.8 264.5,252.7" fill="#33333a" />
<ellipse cx="270.6" cy="244" rx="2.4" ry="1.6" fill="#f3c9a6"/>
<ellipse cx="282.4" cy="248.4" rx="2.6" ry="1.7" fill="#f3c9a6"/>
<path d="M286.6,213.4Q284.4,205 288.6,202Q293.4,199.4 298,202.4Q301.6,206 300.2,212.6Q299,216.6 296.2,218.6L295.4,213.6L291.4,211.4L288.4,214.6Z" fill="#e0463c"/>
<path d="M292,210.6L296.8,210.2L299.4,213.6L296.4,218.8L294.4,214.4Z" fill="#f5a623"/>
<path d="M288,212.6L291.6,211.2L294.6,214.6L293.4,218.6L290,218.2L287.6,215.6Z" fill="#f0b28c"/>
</g>
<!-- remote -->
<g>
<ellipse cx="368.8" cy="157.6" rx="4.6" ry="2.4" fill="#f1ebe6"/>
<rect x="365.3" y="146.2" width="2" height="11.4" fill="#5a2c42"/>
<path d="M366.3,131.6C368.9,131.6 369.7,134.6 370.5,137.9q1.1,1.2 0.2,1.8 L372.3,143.2 q1.1,1.3 0.2,1.9 L373.8,146.6 q0.6,2.6 -2.4,2.6H361.2 q-3,0 -2.4,-2.6 L360.1,145.1 q-0.9,-0.6 0.2,-1.9 L361.9,139.7 q-0.9,-0.6 0.2,-1.8C362.9,134.6 363.7,131.6 366.3,131.6Z" fill="#4a8b55"/>
<ellipse cx="366.3" cy="134.2" rx="1.8" ry="2" fill="#5faa63"/>
<ellipse cx="396.1" cy="141.8" rx="4.6" ry="2.4" fill="#f1ebe6"/>
<rect x="392.6" y="131.0" width="2" height="10.8" fill="#5a2c42"/>
<path d="M393.6,116.2C396.2,116.2 397.0,119.2 397.8,122.6q1.1,1.2 0.2,1.8 L399.6,127.9 q1.1,1.3 0.2,1.9 L401.1,131.4 q0.6,2.6 -2.4,2.6H388.5 q-3,0 -2.4,-2.6 L387.4,129.8 q-0.9,-0.6 0.2,-1.9 L389.2,124.4 q-0.9,-0.6 0.2,-1.8C390.2,119.2 391.0,116.2 393.6,116.2Z" fill="#4a8b55"/>
<ellipse cx="393.6" cy="118.8" rx="1.8" ry="2" fill="#5faa63"/>
<ellipse cx="462.5" cy="112.1" rx="4.6" ry="2.4" fill="#f1ebe6"/>
<rect x="458.4" y="95.4" width="2.2" height="16.7" fill="#5a2c42"/>
<circle cx="459.5" cy="95.4" r="8.3" fill="#3f8c4d"/>
<circle cx="458.9" cy="94.2" r="6.1" fill="#57a561"/>
<ellipse cx="490.1" cy="128.8" rx="4.6" ry="2.4" fill="#f1ebe6"/>
<rect x="486.0" y="111.7" width="2.2" height="17.1" fill="#5a2c42"/>
<circle cx="487.1" cy="111.7" r="8.2" fill="#3f8c4d"/>
<circle cx="486.5" cy="110.5" r="6.1" fill="#57a561"/>
<line x1="501.1" y1="153.2" x2="517.7" y2="143.3" stroke="#f1ebe6" stroke-width="7.8" stroke-linecap="round"/>
<line x1="498.6" y1="151.0" x2="514.2" y2="141.8" stroke="#4b9554" stroke-width="7.8" stroke-linecap="round"/>
<polygon points="494.7,146.6 494.7,151.0 498.6,151.0 518.1,141.8 518.1,137.4 514.2,137.4" fill="#4b9554" />
<line x1="498.6" y1="146.6" x2="514.2" y2="137.4" stroke="#5fab64" stroke-width="7.8" stroke-linecap="round"/>
<polygon points="423.0,157.8 453.5,174.0 481.6,159.4 481.6,157.4 453.5,172.0 423.0,155.8" fill="#6b3a4c" />
<polygon points="410.9,131.0 453.5,154.4 453.5,172.2 410.9,149.0" fill="#f4e8d6" />
<polygon points="410.9,141.0 453.5,164.4 453.5,172.2 410.9,149.0" fill="#ead3b2" />
<polygon points="453.5,154.4 468.4,135.3 480.1,139.6 480.1,157.6 453.5,172.2" fill="#efdfc9" />
<polygon points="453.5,164.4 480.1,150.0 480.1,157.6 453.5,172.2" fill="#e2c8a4" />
<polygon points="453.5,154.4 468.4,135.3 480.1,139.6" fill="#e6cba9" />
<polygon points="430.4,147.4 436.0,150.5 436.0,155.6 430.4,152.5" fill="#6f9fd4" />
<path d="M433.2,148.9v5.2" stroke="#f4e8d6" stroke-width="0.6"/>
<polygon points="443.2,154.6 448.8,157.7 448.8,162.8 443.2,159.7" fill="#6f9fd4" />
<path d="M446.0,156.1v5.2" stroke="#f4e8d6" stroke-width="0.6"/>
<polygon points="457.2,156.4 463.6,152.9 463.6,157.6 457.2,161.1" fill="#6f9fd4" />
<path d="M460.4,154.7v4.8" stroke="#efdfc9" stroke-width="0.6"/>
<polygon points="468.8,150.0 475.2,146.5 475.2,151.2 468.8,154.7" fill="#6f9fd4" />
<path d="M472.0,148.3v4.8" stroke="#efdfc9" stroke-width="0.6"/>
<polygon points="426.1,111.2 431.0,112.2 481.2,139.4 468.4,135.3" fill="#b8412f" />
<polygon points="409.4,130.6 426.1,111.2 468.4,135.3 453.7,155.0" fill="#e2665b" />
<path d="M415.7,134.1L432.1,114.6" stroke="#f09a7a" stroke-width="0.5" stroke-dasharray="3 0.8 1.5 0.8"/>
<path d="M422.1,137.6L438.2,118.1" stroke="#f09a7a" stroke-width="0.5" stroke-dasharray="3 0.8 1.5 0.8"/>
<path d="M428.4,141.1L444.2,121.5" stroke="#f09a7a" stroke-width="0.5" stroke-dasharray="3 0.8 1.5 0.8"/>
<path d="M434.7,144.5L450.3,125.0" stroke="#f09a7a" stroke-width="0.5" stroke-dasharray="3 0.8 1.5 0.8"/>
<path d="M441.0,148.0L456.3,128.4" stroke="#f09a7a" stroke-width="0.5" stroke-dasharray="3 0.8 1.5 0.8"/>
<path d="M447.4,151.5L462.4,131.9" stroke="#f09a7a" stroke-width="0.5" stroke-dasharray="3 0.8 1.5 0.8"/>
<polygon points="390.2,166.0 403.4,172.6 427.0,159.4 427.0,157.8 403.4,171.0 390.2,164.4" fill="#6b3a4c" />
<polygon points="391.4,155.7 403.4,161.3 403.4,171.1 391.4,165.4" fill="#c9483a" />
<polygon points="403.4,161.3 425.7,149.2 425.7,158.6 403.4,171.1" fill="#f0dcc0" />
<polygon points="404.4,162.6 406.6,161.4 406.6,168.4 404.4,169.6" fill="#4a2a3c" />
<polygon points="408.2,160.4 411.8,158.4 411.8,162.4 408.2,164.4" fill="#6f9fd4" />
<polygon points="417.2,154.8 423.0,151.6 423.0,159.4 417.2,162.6" fill="#6b4a5c" />
<polygon points="391.4,155.7 414.6,142.7 425.7,149.2 403.4,161.3" fill="#e2665b" />
<polygon points="413.0,143.8 415.4,142.6 418.2,144.2 415.8,145.4" fill="#f7efe6" />
<g transform="translate(345,75) scale(0.18553)">
<ellipse cx="452" cy="546" rx="56" ry="17" fill="#ebe5e0"/>
<path d="M398,530 L401,516 L424,505 L440,492 L470,487 L492,496 L497,512 L495,524 L442,553 L410,549Z" fill="#2b3b5e"/>
<path d="M398,530 L401,516 L424,505 L440,520 L442,553 L410,549Z" fill="#202d4c"/>
<path d="M428,507 L442,495 L468,491 L481,497 L452,513Z" fill="#4a5d86"/>
<circle cx="420" cy="549" r="6.5" fill="#14182a"/><circle cx="481" cy="530" r="6" fill="#14182a"/>
</g>
</g>
<!-- bunk -->
<g>
<g transform="translate(545,25) scale(0.17995)">
<ellipse cx="378" cy="622" rx="335" ry="122" fill="#c9cbdc"/>
<!-- back posts -->
<polygon points="478,55 510,72 510,330 478,330" fill="#dba970"/>
<polygon points="610,140 640,150 640,545 610,530" fill="#ecbb82"/>
<polygon points="610,530 640,545 625,552 600,538 600,480 610,480" fill="#cf9860"/>
<!-- headboard rails -->
<polygon points="510,88 610,145 610,168 510,112" fill="#ecbb82"/>
<polygon points="510,128 610,185 610,205 510,150" fill="#ecbb82"/>
<polygon points="540,340 610,380 610,402 540,362" fill="#dba970"/>
<polygon points="540,300 610,340 610,358 540,318" fill="#dba970"/>
<!-- far-left post -->
<polygon points="65,340 100,355 100,690 65,672" fill="#ecbb82"/>
<polygon points="65,672 100,690 100,700 82,705 65,695" fill="#cf9860"/>
<!-- lower bunk: mattress (orange) -->
<polygon points="100,560 250,640 250,680 100,610" fill="#c63a1c"/>
<polygon points="250,520 335,472 470,400 565,432 625,440 335,610 250,660" fill="#e8562a"/>
<polygon points="560,420 625,440 625,470 580,455" fill="#eceef2"/>
<!-- lower person -->
<path d="M330,470 Q345,430 400,418 L455,415 L470,450 L395,490 Q360,520 335,512Z" fill="#2e9ad0"/>
<path d="M330,470 L385,480 L380,505 L335,525 Q318,500 330,470Z" fill="#3d4f66"/>
<path d="M440,440 L500,455 L520,420 L505,412 L490,440 L450,418Z" fill="#f3c9a6"/>
<ellipse cx="462" cy="392" rx="22" ry="17" fill="#1a1a22"/>
<polygon points="462,395 520,425 560,400 505,372" fill="#4a4a52"/>
<polygon points="498,352 565,370 560,420 495,400" fill="#3a3a44"/>
<polygon points="506,360 558,375 553,410 502,395" fill="#8fd0f0"/>
<polygon points="515,368 545,377 542,398 512,389" fill="#e8f4fb"/>
<!-- lower front rail -->
<polygon points="335,600 610,440 610,500 335,655" fill="#ecbb82"/>
<polygon points="335,600 610,440 610,452 335,612" fill="#f3cd9c"/>
<!-- left end lower rails & backpack -->
<polygon points="100,600 205,655 205,690 100,635" fill="#ecbb82"/>
<path d="M122,520 Q128,478 165,482 Q205,492 212,540 L212,625 Q200,642 180,636 L125,605 Q115,590 122,520Z" fill="#2a5fa8"/>
<path d="M130,520 Q140,495 170,500 L185,540 L135,560Z" fill="#f0b429"/>
<path d="M122,560 L180,580 L182,615 L125,598Z" fill="#14161e"/>
<path d="M135,565 L165,576 L165,590 L135,580Z" fill="#2a7fd0"/>
<path d="M190,500 Q212,515 212,560 L212,625 Q205,640 195,636Z" fill="#1f4f92"/>
<!-- upper bunk -->
<polygon points="65,340 478,108 510,125 100,356" fill="#f3cd9c"/>
<polygon points="100,356 480,140 610,215 300,425 250,445" fill="#3f8494"/>
<polygon points="450,160 520,135 600,185 605,225 540,240" fill="#f1f2f5"/>
<polygon points="455,178 520,150 596,198 540,226" fill="#dfe2ea"/>
<!-- left end upper rail -->
<polygon points="65,340 100,356 250,440 250,480 65,385" fill="#ecbb82"/>
<polygon points="92,385 215,450 215,462 92,398" fill="#2f5f70"/>
<polygon points="65,385 250,480 250,520 65,425" fill="#ecbb82" opacity="0"/>
<!-- upper person -->
<path d="M150,335 Q160,300 200,240 Q215,222 245,232 L310,262 L335,290 L300,330 L240,360 L170,410 L150,400 L215,330 L230,300 L195,300 L175,355Z" fill="#3d4f66"/>
<path d="M150,335 L175,355 L165,372 L145,362Z" fill="#f3c9a6"/>
<path d="M150,398 L172,410 L160,425 L142,412Z" fill="#f3c9a6"/>
<path d="M300,200 Q330,180 372,192 L392,225 L385,260 L340,292 L305,262Z" fill="#f6f6f6"/>
<path d="M305,255 L330,280 L405,310 L412,298 L345,262 L322,235Z" fill="#f3c9a6"/>
<path d="M372,200 L400,215 L395,240 L380,250Z" fill="#f3c9a6"/>
<path d="M367,175 Q372,138 405,140 Q438,148 432,180 L425,195 Q410,170 385,182 L378,200Z" fill="#e0463c"/>
<polygon points="358,322 440,285 470,300 392,345" fill="#3a3a44"/>
<polygon points="430,290 505,268 512,280 445,305" fill="#2a2a32"/>
<path d="M395,300 l25,10 -8,10 -22,-8z" fill="#f3c9a6"/>
<!-- front upper board -->
<polygon points="305,385 640,200 640,262 305,445" fill="#ecbb82"/>
<polygon points="305,385 640,200 640,214 305,400" fill="#f3cd9c"/>
<polygon points="335,392 640,225 640,236 335,404" fill="#3d5a6a" opacity="0.55"/>
<!-- mid post & front post -->
<polygon points="305,385 335,372 335,740 305,725" fill="#ecbb82"/>
<polygon points="305,725 335,740 322,746 305,738" fill="#cf9860"/>
<!-- ladder -->
<g stroke="#8a93a8" stroke-width="9">
<path d="M255,500 L318,470"/><path d="M255,555 L318,525"/><path d="M255,610 L318,580"/><path d="M255,665 L318,640"/><path d="M255,725 L318,700"/>
</g>
<polygon points="205,430 250,450 250,775 205,755" fill="#ecbb82"/>
<polygon points="250,450 262,444 262,768 250,775" fill="#cf9860"/>
<polygon points="205,755 250,775 250,790 228,795 205,780" fill="#cf9860"/>
</g>

</g>
<!-- sofa -->
<g>
<g transform="translate(740,30) scale(0.19182)">
<ellipse cx="400" cy="475" rx="250" ry="112" fill="#c9cbdc"/>
<ellipse cx="575" cy="592" rx="150" ry="68" fill="#c9cbdc"/>
<!-- sofa -->
<path d="M70,215 Q72,195 95,185 L315,58 Q345,48 352,80 L355,210 L130,335 L118,250 Q105,215 70,215Z" fill="#4e8c9a"/>
<path d="M315,58 Q345,48 352,80 L355,210 L330,222 L328,95 Q326,70 300,68Z" fill="#3f7684"/>
<path d="M130,300 L350,185 L470,240 L215,385Z" fill="#5c9ca8"/>
<path d="M60,290 Q58,230 70,215 Q105,215 118,250 L130,300 L215,350 L215,385Z" fill="#468290"/>
<path d="M60,290 L215,380 L215,472 L60,392Z" fill="#2d5562"/>
<path d="M215,380 L470,245 L470,330 L215,472Z" fill="#274c58"/>
<path d="M430,200 Q470,185 495,215 L500,280 L440,300Z" fill="#468290"/>
<!-- middle man -->
<path d="M305,215 L400,205 L500,235 L495,290 L420,265 L380,280 L378,350 L345,352 L320,290Z" fill="#3d4f66"/>
<path d="M300,150 Q330,118 400,125 Q430,140 425,185 L400,215 L320,225 Q295,200 300,150Z" fill="#f06a2a"/>
<path d="M295,180 Q285,200 300,215 L385,240 L400,222 L330,195Z" fill="#2e9ad0"/>
<path d="M415,178 L470,188 L495,180 L500,195 L470,210 L410,205Z" fill="#2e9ad0"/>
<path d="M380,222 L420,228 L410,240 L380,238Z" fill="#f3c9a6"/>
<path d="M478,165 L505,160 L510,180 L495,195 L475,188Z" fill="#f3c9a6"/>
<path d="M358,105 h42 v30 q-8,18 -26,16 q-14,-6 -16,-20z" fill="#f3c9a6"/>
<path d="M350,105 Q352,78 382,80 Q410,84 406,112 L398,120 Q385,100 360,112Z" fill="#e0463c"/>
<!-- woman -->
<path d="M160,215 Q175,185 215,190 L255,200 Q262,250 250,300 L165,298 Q150,260 160,215Z" fill="#f4f4f6"/>
<path d="M155,295 L255,295 Q300,320 300,350 L265,365 Q200,350 158,318Z" fill="#e84a2a"/>
<path d="M258,350 L300,345 L305,460 L270,462 L262,400Z" fill="#f3c9a6"/>
<path d="M255,458 Q280,452 308,470 L310,490 Q285,495 258,478Z" fill="#e84a2a"/>
<path d="M160,215 L178,225 L185,285 L250,310 L245,322 L170,300 Q150,260 160,215Z" fill="#f3c9a6"/>
<path d="M212,160 h38 v28 q-6,16 -22,14 q-12,-4 -16,-18z" fill="#f3c9a6"/>
<path d="M192,175 Q195,130 232,130 Q262,138 258,165 L235,158 Q215,160 210,185Z" fill="#1a1a22"/>
<!-- table -->
<polygon points="312,398 336,410 336,510 312,498" fill="#f3caa0"/>
<polygon points="415,472 441,460 441,568 415,572" fill="#e2ae7e"/>
<polygon points="560,395 580,385 580,440 560,450" fill="#e2ae7e"/>
<polygon points="310,392 520,275 645,345 435,462" fill="#f7dfc6"/>
<polygon points="310,392 435,462 435,476 310,406" fill="#f0c9a0"/>
<polygon points="435,462 645,345 645,358 435,476" fill="#e4b588"/>
<ellipse cx="457" cy="350" rx="46" ry="26" fill="#fbfbfb"/>
<path d="M457,350 m-38,0 a38,21 0 1 1 30,20 l8,-20z" fill="#f2c14a"/>
<ellipse cx="432" cy="412" rx="34" ry="19" fill="#fbfbfb"/>
<path d="M410,405 l45,-5 -15,25z" fill="#f2c14a"/>
<ellipse cx="372" cy="372" rx="30" ry="16" fill="#fbfbfb"/>
<path d="M355,368 l30,-6 -6,16z" fill="#f2c14a"/>
<ellipse cx="497" cy="294" rx="26" ry="14" fill="#fbfbfb"/>
<ellipse cx="497" cy="291" rx="17" ry="9" fill="#f2c14a"/>
<g fill="#d8342e"><rect x="447" y="275" width="22" height="42" rx="6"/><rect x="514" y="312" width="22" height="42" rx="6"/><rect x="359" y="365" width="22" height="42" rx="6"/></g>
<g fill="#f1d9d6"><ellipse cx="458" cy="278" rx="10" ry="5"/><ellipse cx="525" cy="315" rx="10" ry="5"/><ellipse cx="370" cy="368" rx="10" ry="5"/></g>
<!-- office chair -->
<g stroke="#8a8d94" stroke-width="10" stroke-linecap="round"><path d="M625,600 L548,626"/><path d="M625,600 L712,612"/><path d="M625,600 L640,650"/><path d="M625,600 L698,582"/><path d="M625,600 L568,572"/></g>
<g fill="#22242c"><circle cx="548" cy="628" r="8"/><circle cx="712" cy="614" r="8"/><circle cx="640" cy="652" r="8"/><circle cx="566" cy="572" r="7"/></g>
<rect x="612" y="535" width="26" height="66" fill="#d4d6dc"/>
<path d="M560,500 Q620,480 692,500 L690,525 Q625,550 562,525Z" fill="#3a3e4a"/>
<!-- right man -->
<path d="M492,470 Q560,440 640,455 L650,500 L590,520 L555,520 L545,570 L500,565Z" fill="#3d4f66"/>
<path d="M488,568 Q520,558 552,568 L555,585 Q520,592 490,584Z" fill="#1a1a22"/>
<path d="M560,330 Q600,300 660,305 Q700,330 690,400 L660,475 L590,470 L575,430 L540,425 L515,385 L530,375 L570,390Z" fill="#2e9ad0"/>
<path d="M485,362 L522,376 L515,390 L480,378Z" fill="#f3c9a6"/>
<path d="M585,290 h40 v25 l-20,12 -20,-10z" fill="#f3c9a6"/>
<path d="M568,280 Q572,245 605,246 Q640,252 634,290 L625,305 Q610,280 585,292 L580,300Z" fill="#5a3424"/>
<rect x="640" y="395" width="86" height="82" rx="24" fill="#8a8d94"/>
<path d="M640,470 L690,478 L680,505 L640,500Z" fill="#6a6d74"/>
<!-- plant -->
<g fill="#2e8a4e">
<path d="M185,705 Q150,600 172,478 Q200,600 195,705Z"/>
<path d="M180,700 Q120,610 82,570 Q160,600 192,690Z" fill="#3a9a58"/>
<path d="M188,700 Q215,600 262,552 Q235,630 198,705Z" fill="#3a9a58"/>
<path d="M178,705 Q130,650 85,632 Q150,640 188,698Z"/>
<path d="M192,700 Q240,630 308,626 Q245,650 198,708Z"/>
<path d="M190,705 Q220,670 240,662 Q225,690 196,712Z" fill="#3a9a58"/>
</g>
<polygon points="125,690 185,670 240,690 180,714" fill="#4a4e5a"/>
<polygon points="125,690 180,714 172,784 145,762" fill="#8a8f9c"/>
<polygon points="180,714 240,690 216,765 172,784" fill="#5d6270"/>
<!-- low bookshelf -->
<path d="M312,690 h30 v22 q-15,10 -30,0z" fill="#e2ae7e"/>
<path d="M490,775 h40 v25 q-20,12 -40,0z" fill="#e2ae7e"/>
<polygon points="290,662 345,632 582,748 525,780" fill="#f7dfc6"/>
<polygon points="290,662 525,780 525,796 290,678" fill="#f0c9a0"/>
<polygon points="525,780 582,748 582,764 525,796" fill="#e4b588"/>
<g>
<polygon points="338,600 352,593 352,660 338,667" fill="#c8342e"/>
<polygon points="352,596 366,603 366,672 352,665" fill="#d8d2c6"/>
<polygon points="362,606 376,599 376,668 362,675" fill="#2a6fb8"/>
<polygon points="376,610 390,603 390,676 376,683" fill="#e8762a"/>
<polygon points="388,618 402,611 402,682 388,689" fill="#2f7f8a"/>
<polygon points="400,624 414,617 414,690 400,697" fill="#c8342e"/>
<polygon points="412,630 426,623 426,696 412,703" fill="#2a6fb8"/>
<polygon points="424,636 438,629 438,702 424,709" fill="#2a6fb8"/>
<polygon points="436,644 450,637 450,708 436,715" fill="#8a6a4a"/>
<polygon points="448,650 462,643 462,714 448,721" fill="#c8342e"/>
<polygon points="460,656 474,649 474,722 460,729" fill="#2f7f8a"/>
<polygon points="472,662 486,655 486,728 472,735" fill="#e8762a"/>
<polygon points="338,600 352,593 366,600 352,607" fill="#e8e2d6"/>
<polygon points="486,672 500,679 500,750 486,743" fill="#d8a82a"/>
<polygon points="500,679 545,668 545,742 500,753" fill="#f0c42e"/>
<polygon points="486,672 531,661 545,668 500,679" fill="#f6e08a"/>
</g>
</g>

</g>
<!-- student -->
<g>
<g transform="translate(830,200) scale(0.17992)">
<ellipse cx="258" cy="708" rx="182" ry="70" fill="#c9a62c"/>
<ellipse cx="440" cy="660" rx="112" ry="46" fill="#c9a62c"/>
<ellipse cx="385" cy="668" rx="58" ry="24" fill="#a88f3c"/>
<!-- wifi -->
<g fill="none" stroke="#fdf6d8" stroke-width="6" stroke-linecap="round">
<circle cx="468" cy="360" r="9"/>
<path d="M438,332 A42,42 0 0 1 498,332"/>
<path d="M414,310 A72,72 0 0 1 522,310"/>
<path d="M392,284 A104,104 0 0 1 546,284"/>
</g>
<!-- pin -->
<path d="M428,640 Q372,560 380,490 Q392,420 455,408 L470,412 Q410,440 400,510 Q398,570 440,640Z" fill="#1a5fa8"/>
<path d="M440,642 Q388,560 398,495 Q412,420 470,410 Q512,412 510,470 Q505,545 440,642Z M430,520 Q450,540 472,500 Q486,455 468,448 Q446,452 432,490 Q424,512 430,520Z" fill="#1e9ae0" fill-rule="evenodd"/>
<!-- woman: back arm -->
<path d="M195,205 Q215,190 225,215 L190,300 L160,312 L150,300Z" fill="#b52234"/>
<path d="M150,300 L168,310 L148,372 L125,378 L115,350Z" fill="#f3c9a6"/>
<!-- back leg -->
<path d="M190,430 L250,440 L245,560 L268,640 L235,655 L195,540 Q172,480 190,430Z" fill="#a5cde6"/>
<path d="M268,640 Q300,615 322,625 L318,650 Q295,690 270,692 L262,670Z" fill="#f1f1f6"/>
<!-- front leg -->
<path d="M198,350 L300,360 L290,470 L275,560 L282,690 L235,700 L228,560 L200,470Z" fill="#b9dcf0"/>
<path d="M178,452 l24,-6 4,14 -24,8z M238,468 l22,-4 2,14 -22,6z" fill="#eef6fb"/>
<path d="M230,700 Q255,690 282,695 L268,730 Q235,760 200,755 Q190,745 200,735Z" fill="#f1f1f6"/>
<path d="M215,725 l30,-15 6,10 -28,16z" fill="#f0a0a8"/>
<!-- torso -->
<path d="M205,200 Q240,180 300,195 Q335,215 332,300 L310,400 L250,395 L195,370 Q185,280 205,200Z" fill="#c8283a"/>
<path d="M215,210 L248,205 L245,365 L205,355Z" fill="#f6f6f8"/>
<!-- folder -->
<path d="M225,262 L292,235 L296,335 L232,366Z" fill="#c9ccd4"/>
<path d="M225,262 L232,260 L238,362 L232,366Z" fill="#9a9ea8"/>
<!-- front arm -->
<path d="M292,215 Q330,225 334,290 L322,322 L278,330 L270,312 L300,296Z" fill="#b52234"/>
<path d="M232,318 Q255,305 275,312 L278,332 Q255,345 234,338Z" fill="#f3c9a6"/>
<!-- head -->
<path d="M222,110 Q225,175 245,182 L268,180 L272,195 L245,200 L240,182Z" fill="#f3c9a6"/>
<path d="M220,108 Q228,100 262,108 L270,170 Q255,185 240,180 Q222,160 220,108Z" fill="#f3c9a6"/>
<path d="M225,105 Q235,78 275,88 Q305,105 298,150 Q290,175 272,180 Q268,140 250,118 Q238,108 225,105Z" fill="#2a1f24"/>
<path d="M280,160 Q285,200 230,232 L215,225 Q265,195 268,165Z" fill="#2a1f24" opacity="0"/>
<path d="M215,180 Q225,172 232,182 L222,230 L210,228Z" fill="#3a2a2e"/>
</g>

</g>
<!-- building -->
<g>
<polygon points="737.0,414.0 759.0,426.0 670.0,478.0 655.7,471.4" fill="#ede5df" />
<polygon points="519.0,409.0 523.8,395.0 541.8,385.0 592.8,414.0 592.8,436.0 584.0,448.0" fill="#ece3dd" />
<polygon points="460.5,358.4 523.8,394.3 541.8,384.6 541.8,387.2 523.8,397.0 460.5,361.0" fill="#5a2c42" />
<polygon points="589.0,431.8 655.8,469.9 655.8,472.6 589.0,434.4" fill="#5a2c42" />
<polygon points="655.8,470.4 672.9,460.6 738.2,423.6 738.2,426.2 655.8,473.0" fill="#6b3a4c" />
<polygon points="481.3,265.0 543.8,231.8 735.4,339.5 672.9,372.7" fill="#e3d8cf" />
<polygon points="481.3,265.0 523.3,286.2 523.3,279.7 621.4,335.6 672.9,372.7 672.9,408.9 481.3,299.5" fill="#faf2e6" />
<polygon points="672.9,372.7 735.4,339.5 736.7,424.5 672.9,460.6" fill="#e2c9ae" />
<polygon points="481.3,299.5 672.9,408.7 655.8,417.3 464.5,308.8" fill="#f6c27b" />
<polygon points="464.5,308.8 523.8,342.4 523.8,394.4 464.5,360.8" fill="#f3b15c" />
<polygon points="523.8,342.4 541.8,333.0 541.8,385.0 523.8,394.4" fill="#f0a55c" />
<polygon points="592.8,381.5 655.8,417.3 655.8,469.9 592.8,434.1" fill="#f3b15c" />
<polygon points="655.8,417.3 672.9,408.7 672.9,460.6 655.8,469.9" fill="#e8985e" />
<polygon points="472.2,320.4 484.4,327.3 484.4,361.7 472.2,354.8" fill="#f9d9a6" />
<polygon points="473.4,322.0 483.2,327.6 483.2,358.8 473.4,353.2" fill="#7399c1" />
<polygon points="477.8,324.5 479.3,325.3 479.3,356.5 477.8,355.7" fill="#86a8cc" />
<polygon points="490.0,330.8 502.2,337.7 502.2,372.1 490.0,365.2" fill="#f9d9a6" />
<polygon points="491.2,332.4 501.0,338.0 501.0,369.2 491.2,363.6" fill="#7399c1" />
<polygon points="495.6,334.9 497.1,335.7 497.1,366.9 495.6,366.1" fill="#86a8cc" />
<polygon points="508.2,341.4 520.4,348.3 520.4,382.7 508.2,375.8" fill="#f9d9a6" />
<polygon points="509.4,343.0 519.2,348.6 519.2,379.8 509.4,374.2" fill="#7399c1" />
<polygon points="513.8,345.5 515.3,346.3 515.3,377.5 513.8,376.7" fill="#86a8cc" />
<polygon points="601.4,394.6 613.4,401.4 613.4,436.2 601.4,429.4" fill="#f9d9a6" />
<polygon points="602.6,396.2 612.2,401.6 612.2,433.2 602.6,427.8" fill="#7399c1" />
<polygon points="606.9,398.6 608.4,399.5 608.4,431.1 606.9,430.2" fill="#86a8cc" />
<polygon points="619.4,404.6 631.4,411.4 631.4,446.2 619.4,439.4" fill="#f9d9a6" />
<polygon points="620.6,406.2 630.2,411.6 630.2,443.2 620.6,437.8" fill="#7399c1" />
<polygon points="624.9,408.6 626.4,409.5 626.4,441.1 624.9,440.2" fill="#86a8cc" />
<polygon points="637.4,415.0 649.4,421.8 649.4,456.6 637.4,449.8" fill="#f9d9a6" />
<polygon points="638.6,416.6 648.2,422.0 648.2,453.6 638.6,448.2" fill="#7399c1" />
<polygon points="642.9,419.0 644.4,419.9 644.4,451.5 642.9,450.6" fill="#86a8cc" />
<polygon points="509.6,353.2 541.8,334.7 608.2,370.4 576.0,388.4" fill="#f6c27b" />
<polygon points="509.6,353.2 576.0,388.4 576.0,407.0 509.6,373.8" fill="#f3b15c" />
<polygon points="576.0,388.4 592.8,380.6 592.8,398.6 576.0,407.0" fill="#e8985e" />
<path d="M516,374.5V406a3.9,1.8 0 0 0 7.8,0V378.5Z" fill="#5a2c42"/>
<path d="M578,405V441.2a3.9,1.8 0 0 0 7.8,0V402Z" fill="#5a2c42"/>
<polygon points="486.4,278.7 498.8,285.8 498.8,293.2 486.4,286.1" fill="#ecd5b5" />
<polygon points="487.0,278.5 498.2,284.9 498.2,290.5 487.0,284.1" fill="#7399c1" />
<polygon points="507.2,290.5 519.7,297.6 519.7,305.0 507.2,297.9" fill="#ecd5b5" />
<polygon points="507.9,290.3 519.1,296.7 519.1,302.3 507.9,295.9" fill="#7399c1" />
<polygon points="528.1,302.3 540.5,309.4 540.5,316.8 528.1,309.7" fill="#ecd5b5" />
<polygon points="528.7,302.1 539.9,308.5 539.9,314.1 528.7,307.7" fill="#7399c1" />
<polygon points="548.9,314.1 561.4,321.2 561.4,328.6 548.9,321.5" fill="#ecd5b5" />
<polygon points="549.5,313.9 560.8,320.3 560.8,325.9 549.5,319.5" fill="#7399c1" />
<polygon points="569.8,325.9 582.2,333.0 582.2,340.4 569.8,333.3" fill="#ecd5b5" />
<polygon points="570.4,325.7 581.6,332.1 581.6,337.7 570.4,331.3" fill="#7399c1" />
<polygon points="590.6,337.7 603.1,344.8 603.1,352.2 590.6,345.1" fill="#ecd5b5" />
<polygon points="591.2,337.5 602.5,343.9 602.5,349.5 591.2,343.1" fill="#7399c1" />
<polygon points="611.5,349.5 623.9,356.6 623.9,364.0 611.5,356.9" fill="#ecd5b5" />
<polygon points="612.1,349.3 623.3,355.7 623.3,361.3 612.1,354.9" fill="#7399c1" />
<polygon points="632.4,361.3 644.8,368.4 644.8,375.8 632.4,368.7" fill="#ecd5b5" />
<polygon points="633.0,361.1 644.2,367.5 644.2,373.1 633.0,366.7" fill="#7399c1" />
<polygon points="653.2,373.1 665.6,380.2 665.6,387.6 653.2,380.5" fill="#ecd5b5" />
<polygon points="653.8,372.9 665.0,379.3 665.0,384.9 653.8,378.5" fill="#7399c1" />
<polygon points="680.9,403.6 685.9,400.9 685.9,419.1 680.9,421.8" fill="#7399c1" />
<polygon points="680.9,427.4 685.9,424.7 685.9,442.9 680.9,445.6" fill="#7399c1" />
<polygon points="690.3,398.2 695.3,395.6 695.3,413.8 690.3,416.4" fill="#7399c1" />
<polygon points="690.3,422.1 695.3,419.4 695.3,437.6 690.3,440.2" fill="#7399c1" />
<polygon points="699.5,392.9 704.5,390.2 704.5,408.4 699.5,411.1" fill="#7399c1" />
<polygon points="699.5,416.7 704.5,414.0 704.5,432.2 699.5,434.9" fill="#7399c1" />
<polygon points="708.9,387.6 713.9,384.9 713.9,403.1 708.9,405.8" fill="#7399c1" />
<polygon points="708.9,411.4 713.9,408.7 713.9,426.9 708.9,429.6" fill="#7399c1" />
<polygon points="717.7,382.2 722.7,379.5 722.7,397.7 717.7,400.4" fill="#7399c1" />
<polygon points="717.7,406.0 722.7,403.3 722.7,421.5 717.7,424.2" fill="#7399c1" />
<polygon points="726.6,376.9 731.6,374.2 731.6,392.4 726.6,395.1" fill="#7399c1" />
<polygon points="726.6,400.7 731.6,398.0 731.6,416.2 726.6,418.9" fill="#7399c1" />
<polygon points="679.2,379.3 692.8,372.1 692.8,379.7 679.2,386.9" fill="#efe0cf" />
<polygon points="680.2,379.8 691.8,373.6 691.8,379.2 680.2,385.4" fill="#7399c1" />
<polygon points="700.7,367.4 714.3,360.2 714.3,367.8 700.7,375.0" fill="#efe0cf" />
<polygon points="701.7,367.9 713.3,361.7 713.3,367.3 701.7,373.5" fill="#7399c1" />
<rect x="-6.5" y="-2" width="13" height="4.2" rx="2" fill="#fbf6ee" transform="translate(727,356.3) rotate(-27)"/>
<polygon points="703.5,339.5 712.3,334.9 721.0,339.8 712.0,344.6" fill="#ffffff" />
<polygon points="666.5,365.2 671.5,362.6 677.3,366.0 672.2,368.8" fill="#ffffff" />
<polygon points="497.5,266.2 505.5,262.0 513.5,266.2 505.5,270.5" fill="#ffffff" />
<polygon points="523.3,232.0 621.7,288.0 621.7,334.0 523.3,280.0" fill="#faf2e6" />
<polygon points="621.5,288.0 683.7,255.0 683.7,302.8 621.5,335.6" fill="#f0e5d7" />
<polygon points="523.3,270.2 621.5,325.6 621.5,335.6 523.3,279.7" fill="#8b6169" />
<polygon points="621.5,321.5 683.7,291.3 683.7,302.8 621.5,335.6" fill="#5a2c42" />
<polygon points="626.8,294.4 632.0,291.6 632.0,309.2 626.8,312.0" fill="#7399c1" />
<polygon points="636.0,289.1 641.2,286.3 641.2,303.9 636.0,306.7" fill="#7399c1" />
<polygon points="645.2,283.8 650.4,281.0 650.4,298.6 645.2,301.4" fill="#7399c1" />
<polygon points="654.4,278.5 659.6,275.7 659.6,293.3 654.4,296.1" fill="#7399c1" />
<polygon points="663.6,273.2 668.8,270.4 668.8,288.0 663.6,290.8" fill="#7399c1" />
<polygon points="672.8,267.9 678.0,265.1 678.0,282.7 672.8,285.5" fill="#7399c1" />
<polygon points="519.2,226.0 584.5,188.0 685.6,247.2 621.7,284.6" fill="#f9f0e3" />
<polygon points="519.2,226.0 621.7,284.6 621.7,288.8 519.2,230.2" fill="#ecd7ba" />
<polygon points="621.7,284.6 685.6,247.2 685.6,251.4 621.7,288.8" fill="#e2c6a3" />
<polygon points="572.4,251.3 584.3,258.0 596.4,251.3 584.3,244.6" fill="#ffffff" />
<polygon points="529.2,225.7 536.0,229.6 544.5,225.0 537.5,221.0" fill="#ffffff" />
<polygon points="573.3,198.6 580.7,202.8 590.6,197.4 583.0,193.3" fill="#fdfaf5" />
<circle cx="578.5" cy="199.6" r="1" fill="#c9b8a6"/><circle cx="583.2" cy="197.2" r="1" fill="#c9b8a6"/>
<polygon points="528.0,254.0 532.8,249.6 611.0,293.0 607.0,297.4" fill="#e3d8cf" />
<polygon points="607.0,297.4 611.0,293.0 610.6,318.6 606.6,322.8" fill="#e6cba9" />
<polygon points="528.0,254.0 607.0,297.4 606.6,322.8 528.0,278.7" fill="#ffffff" />
<text transform="matrix(0.85,0.466,0,1,530,275.6)" style="font-family:'Liberation Sans',sans-serif;font-weight:bold;font-size:14.6px;stroke:#4a2639;stroke-width:0.45px" fill="#4a2639">UNIVERSITY</text>
</g>
<!-- field -->
<g>
<polygon points="853.0,479.0 862.3,484.7 853.5,489.5 844.7,489.1" fill="#ebe4df" />
<polygon points="855.2,398.2 965.9,462.0 899.8,500.0 789.1,436.2" fill="#5fa867" />
<polygon points="861.7,402.0 868.2,405.7 802.1,443.7 795.6,440.0" fill="#4a8b56" />
<polygon points="874.7,409.5 881.2,413.2 815.1,451.2 808.6,447.5" fill="#4a8b56" />
<polygon points="887.8,417.0 894.3,420.7 828.2,458.7 821.7,455.0" fill="#4a8b56" />
<polygon points="900.8,424.5 907.3,428.2 841.2,466.2 834.7,462.5" fill="#4a8b56" />
<polygon points="913.8,432.0 920.3,435.7 854.2,473.7 847.7,470.0" fill="#4a8b56" />
<polygon points="926.8,439.5 933.3,443.2 867.2,481.2 860.7,477.5" fill="#4a8b56" />
<polygon points="939.9,447.0 946.4,450.7 880.3,488.7 873.8,485.0" fill="#4a8b56" />
<polygon points="952.9,454.5 959.4,458.2 893.3,496.2 886.8,492.5" fill="#4a8b56" />
<polygon points="855.3,401.3 960.5,461.9 899.7,496.9 794.5,436.3" fill="none" stroke="#e8f3e6" stroke-width="0.7"/>
<polyline points="907.9,431.6 847.1,466.6" fill="none" stroke="#e8f3e6" stroke-width="0.7"/>
<polyline points="835.8,412.5 845.5,418.1 823.5,430.7 813.9,425.1" fill="none" stroke="#e8f3e6" stroke-width="0.7"/>
<polyline points="941.0,473.1 931.4,467.6 909.4,480.2 919.0,485.8" fill="none" stroke="#e8f3e6" stroke-width="0.7"/>
<ellipse cx="877.5" cy="449.1" rx="14.6" ry="8.7" fill="none" stroke="#e8f3e6" stroke-width="0.7"/>
<line x1="774.0" y1="439.3" x2="789.0" y2="431.0" stroke="#eee8e3" stroke-width="5" stroke-linecap="round"/>
<line x1="774.2" y1="436.2" x2="785.8" y2="429.8" stroke="#3f8a4c" stroke-width="5.8" stroke-linecap="round"/>
<line x1="774.2" y1="433.0" x2="785.8" y2="426.6" stroke="#5dab63" stroke-width="5.8" stroke-linecap="round"/>
<rect x="-0.1" y="0" width="0" height="0"/>
<line x1="793.4" y1="428.5" x2="808.4" y2="420.2" stroke="#eee8e3" stroke-width="5" stroke-linecap="round"/>
<line x1="793.6" y1="425.4" x2="805.1" y2="419.0" stroke="#3f8a4c" stroke-width="5.8" stroke-linecap="round"/>
<line x1="793.6" y1="422.2" x2="805.1" y2="415.8" stroke="#5dab63" stroke-width="5.8" stroke-linecap="round"/>
<rect x="-0.1" y="0" width="0" height="0"/>
<line x1="812.7" y1="418.0" x2="827.7" y2="409.7" stroke="#eee8e3" stroke-width="5" stroke-linecap="round"/>
<line x1="813.0" y1="414.9" x2="824.5" y2="408.5" stroke="#3f8a4c" stroke-width="5.8" stroke-linecap="round"/>
<line x1="813.0" y1="411.7" x2="824.5" y2="405.3" stroke="#5dab63" stroke-width="5.8" stroke-linecap="round"/>
<rect x="-0.1" y="0" width="0" height="0"/>
<line x1="831.6" y1="407.3" x2="846.6" y2="399.0" stroke="#eee8e3" stroke-width="5" stroke-linecap="round"/>
<line x1="831.9" y1="404.2" x2="843.4" y2="397.8" stroke="#3f8a4c" stroke-width="5.8" stroke-linecap="round"/>
<line x1="831.9" y1="401.0" x2="843.4" y2="394.6" stroke="#5dab63" stroke-width="5.8" stroke-linecap="round"/>
<rect x="-0.1" y="0" width="0" height="0"/>
<ellipse cx="786.6" cy="443.8" rx="3.4" ry="1.9" fill="#ece6e0"/>
<circle cx="785.0" cy="441.2" r="3.4" fill="#3f8c4d"/>
<circle cx="784.7" cy="440.4" r="2.4" fill="#58a560"/>
<ellipse cx="797.1" cy="450.2" rx="3.4" ry="1.9" fill="#ece6e0"/>
<circle cx="795.5" cy="447.6" r="3.4" fill="#3f8c4d"/>
<circle cx="795.2" cy="446.8" r="2.4" fill="#58a560"/>
<ellipse cx="807.4" cy="456.4" rx="3.4" ry="1.9" fill="#ece6e0"/>
<circle cx="805.8" cy="453.8" r="3.4" fill="#3f8c4d"/>
<circle cx="805.5" cy="453.0" r="2.4" fill="#58a560"/>
<ellipse cx="817.7" cy="462.7" rx="3.4" ry="1.9" fill="#ece6e0"/>
<circle cx="816.1" cy="460.1" r="3.4" fill="#3f8c4d"/>
<circle cx="815.8" cy="459.3" r="2.4" fill="#58a560"/>
<ellipse cx="869.1" cy="493.6" rx="3.4" ry="1.9" fill="#ece6e0"/>
<circle cx="867.5" cy="491.0" r="3.4" fill="#3f8c4d"/>
<circle cx="867.2" cy="490.2" r="2.4" fill="#58a560"/>
<ellipse cx="879.4" cy="500.1" rx="3.4" ry="1.9" fill="#ece6e0"/>
<circle cx="877.8" cy="497.5" r="3.4" fill="#3f8c4d"/>
<circle cx="877.5" cy="496.7" r="2.4" fill="#58a560"/>
<ellipse cx="889.7" cy="506.1" rx="3.4" ry="1.9" fill="#ece6e0"/>
<circle cx="888.1" cy="503.5" r="3.4" fill="#3f8c4d"/>
<circle cx="887.8" cy="502.7" r="2.4" fill="#58a560"/>
<ellipse cx="899.8" cy="511.2" rx="3.4" ry="1.9" fill="#ece6e0"/>
<circle cx="898.2" cy="508.6" r="3.4" fill="#3f8c4d"/>
<circle cx="897.9" cy="507.8" r="2.4" fill="#58a560"/>
<path d="M907.3,504.5L915.7,499.9" stroke="#2b3d66" stroke-width="2.2"/>
<path d="M908.1,504.5v3M914.9,499.9v3" stroke="#2b3d66" stroke-width="0.9"/>
<path d="M919.1,497.6L927.5,493.0" stroke="#2b3d66" stroke-width="2.2"/>
<path d="M919.9,497.6v3M926.7,493.0v3" stroke="#2b3d66" stroke-width="0.9"/>
<path d="M930.5,491.2L938.9,486.6" stroke="#2b3d66" stroke-width="2.2"/>
<path d="M931.3,491.2v3M938.1,486.6v3" stroke="#2b3d66" stroke-width="0.9"/>
<path d="M942.8,484.3L951.2,479.7" stroke="#2b3d66" stroke-width="2.2"/>
<path d="M943.6,484.3v3M950.4,479.7v3" stroke="#2b3d66" stroke-width="0.9"/>
<path d="M954.6,477.8L963.0,473.2" stroke="#2b3d66" stroke-width="2.2"/>
<path d="M955.4,477.8v3M962.2,473.2v3" stroke="#2b3d66" stroke-width="0.9"/>
<path d="M966.6,471.2L975.0,466.6" stroke="#2b3d66" stroke-width="2.2"/>
<path d="M967.4,471.2v3M974.2,466.6v3" stroke="#2b3d66" stroke-width="0.9"/>
<polygon points="887.9,386.8 935.8,413.7 935.8,433.4 887.9,402.9" fill="#f1e3d0" />
<polygon points="887.9,386.8 891.4,388.8 891.4,405.2 887.9,402.9" fill="#dcc3a4" />
<polygon points="905.9,397.0 909.8,399.2 909.8,416.8 905.9,414.4" fill="#dcc3a4" />
<polygon points="891.6,391.6 905.7,399.6 905.7,415.4 891.6,406.6" fill="#5a2c42" />
<path d="M891.6,394.0L905.7,402.0" stroke="#7a4a5c" stroke-width="0.6"/>
<path d="M891.6,396.7L905.7,404.7" stroke="#7a4a5c" stroke-width="0.6"/>
<path d="M891.6,399.4L905.7,407.4" stroke="#7a4a5c" stroke-width="0.6"/>
<path d="M891.6,402.1L905.7,410.1" stroke="#7a4a5c" stroke-width="0.6"/>
<path d="M891.6,404.8L905.7,412.8" stroke="#7a4a5c" stroke-width="0.6"/>
<polygon points="914.0,407.6 923.6,413.0 923.6,421.4 914.0,416.0" fill="#bcd6ee" />
<path d="M918.8,410.3V418.7" stroke="#f1e3d0" stroke-width="0.8"/>
<polygon points="927.2,416.0 931.6,418.5 931.6,430.6 927.2,428.0" fill="#5a2c42" />
<polygon points="935.8,413.7 956.8,401.9 956.8,420.1 935.8,433.4" fill="#d85c50" />
<polygon points="887.9,386.8 907.9,375.0 956.8,401.9 935.8,413.7" fill="#e2736a" />
<polygon points="903.6,380.4 908.2,377.8 913.2,380.6 908.6,383.2" fill="#fbf3ee" />
<ellipse cx="963.7" cy="435.4" rx="5.6" ry="3" fill="#f3ede8"/>
<rect x="959.4" y="420" width="2.3" height="15.6" fill="#5a2c42"/>
<circle cx="960.5" cy="415.8" r="9.3" fill="#3f9a4f"/>
<circle cx="959.6" cy="414.4" r="6.6" fill="#4aa65a"/>
<polygon points="817.1,470.0 843.0,484.8 843.0,489.1 817.1,474.2" fill="#d9bf9e" />
<polygon points="817.1,468.0 826.3,462.6 851.8,477.5 843.0,484.8" fill="#e3cdb0" />
<polygon points="843.0,480.3 851.8,475.5 853.1,483.8 843.0,489.1" fill="#e9e5e2" />
<polygon points="826.3,462.0 851.8,476.5 851.8,483.0 826.3,468.0" fill="#d7c0a4" />
<path d="M820.5,472.2l6.2,3.6M837.4,481.3l4,2.3" stroke="#2f4d84" stroke-width="2.4"/>
<polygon points="817.1,466.3 826.3,460.5 851.8,475.5 843.0,480.3" fill="#8b6068" />
<polygon points="824.5,463.2 838.6,471.1 838.6,475.5 824.5,467.1" fill="#ffffff" />
<polygon points="796.0,484.0 818.0,496.0 828.0,490.5 823.0,486.0" fill="#efe6e0" />
<polygon points="794.7,474.6 817.1,486.9 817.1,494.4 794.7,482.1" fill="#ee9e45" />
<polygon points="817.1,486.9 822.8,483.8 822.8,491.0 817.1,494.4" fill="#f5b465" />
<polygon points="794.7,474.6 800.4,471.1 822.8,483.8 817.1,486.9" fill="#f3ab52" />
<polygon points="795.6,476.7 798.7,478.4 798.7,481.6 795.6,479.9" fill="#5a2c42" />
<polygon points="800.1,479.2 803.2,480.9 803.2,486.3 800.1,484.6" fill="#5a2c42" />
<polygon points="804.6,481.6 807.7,483.3 807.7,486.5 804.6,484.8" fill="#5a2c42" />
<polygon points="809.0,484.1 812.2,485.8 812.2,491.2 809.0,489.5" fill="#5a2c42" />
<polygon points="813.5,486.5 816.2,488.0 816.2,491.2 813.5,489.7" fill="#5a2c42" />
<polygon points="817.9,488.2 822.2,485.8 822.2,488.6 817.9,491.0" fill="#5a2c42" />
<circle cx="797.6" cy="484.2" r="1.3" fill="#4a3040"/><circle cx="812.6" cy="492.6" r="1.3" fill="#4a3040"/>
<ellipse cx="801.5" cy="475.2" rx="1.6" ry="0.9" fill="#d9c7a5"/><ellipse cx="812.8" cy="481.5" rx="1.6" ry="0.9" fill="#d9c7a5"/>
</g>
<!-- garden -->
<g>
<ellipse cx="322.5" cy="460.0" rx="5" ry="2.6" fill="#f1ebe6"/>
<rect x="318.9" y="446.8" width="2.2" height="13.2" fill="#5a2c42"/>
<path d="M320.0,429.4C322.6,429.4 323.4,432.4 324.8,436.7q1.1,1.2 0.2,1.8 L326.9,442.9 q1.1,1.3 0.2,1.9 L328.6,447.2 q0.6,2.6 -2.4,2.6H313.8 q-3,0 -2.4,-2.6 L312.9,444.8 q-0.9,-0.6 0.2,-1.9 L315.0,438.5 q-0.9,-0.6 0.2,-1.8C316.6,432.4 317.4,429.4 320.0,429.4Z" fill="#4a8b55"/>
<ellipse cx="320.0" cy="432.0" rx="1.8" ry="2" fill="#5faa63"/>
<ellipse cx="357.3" cy="439.5" rx="5" ry="2.6" fill="#f1ebe6"/>
<rect x="353.7" y="426.8" width="2.2" height="12.7" fill="#5a2c42"/>
<path d="M354.8,409.0C357.4,409.0 358.2,412.0 359.6,416.5q1.1,1.2 0.2,1.8 L361.7,422.7 q1.1,1.3 0.2,1.9 L363.4,427.2 q0.6,2.6 -2.4,2.6H348.6 q-3,0 -2.4,-2.6 L347.7,424.6 q-0.9,-0.6 0.2,-1.9 L349.8,418.3 q-0.9,-0.6 0.2,-1.8C351.4,412.0 352.2,409.0 354.8,409.0Z" fill="#4a8b55"/>
<ellipse cx="354.8" cy="411.6" rx="1.8" ry="2" fill="#5faa63"/>
<ellipse cx="389.9" cy="421.7" rx="5" ry="2.6" fill="#f1ebe6"/>
<rect x="386.3" y="408.6" width="2.2" height="13.1" fill="#5a2c42"/>
<path d="M387.4,391.1C390.0,391.1 390.8,394.1 392.2,398.5q1.1,1.2 0.2,1.8 L394.3,404.6 q1.1,1.3 0.2,1.9 L396.0,409.0 q0.6,2.6 -2.4,2.6H381.2 q-3,0 -2.4,-2.6 L380.3,406.5 q-0.9,-0.6 0.2,-1.9 L382.4,400.3 q-0.9,-0.6 0.2,-1.8C384.0,394.1 384.8,391.1 387.4,391.1Z" fill="#4a8b55"/>
<ellipse cx="387.4" cy="393.7" rx="1.8" ry="2" fill="#5faa63"/>
<polygon points="341.5,467.4 416.0,427.7 423.5,433.0 353.7,473.9" fill="#f0e6e0" stroke="#f0e6e0" stroke-width="3" stroke-linejoin="round" transform="translate(2,2.6)"/>
<polygon points="341.5,467.4 416.0,427.7 423.5,433.0 353.7,473.9" fill="#e6d3b3" stroke="#e6d3b3" stroke-width="2.4" stroke-linejoin="round" transform="translate(0,1.2)"/>
<polygon points="341.5,467.4 416.0,427.7 423.5,433.0 353.7,473.9" fill="#7399be" stroke="#7399be" stroke-width="1.4" stroke-linejoin="round"/>
<rect x="407.4" y="429.0" width="3.0" height="7.0" rx="1.0" fill="#f3ede6"/>
<path d="M408.9,429.5c-0.5,-3 -3,-4.5 -5,-3.4M408.9,429.5c0.5,-3 3,-4.5 5,-3.4M408.9,429.5c-0.4,-3 -2,-5.4 -3,-5.6M408.9,429.5c0.4,-3 2,-5.4 3,-5.6M408.9,429.5c-1,-1.6 -3.6,-1.2 -4.6,0.6M408.9,429.5c1,-1.6 3.6,-1.2 4.6,0.6" stroke="#86abd2" stroke-width="1.3" fill="none" stroke-linecap="round"/>
<rect x="390.2" y="439.0" width="3.0" height="7.0" rx="1.0" fill="#f3ede6"/>
<path d="M391.7,439.5c-0.5,-3 -3,-4.5 -5,-3.4M391.7,439.5c0.5,-3 3,-4.5 5,-3.4M391.7,439.5c-0.4,-3 -2,-5.4 -3,-5.6M391.7,439.5c0.4,-3 2,-5.4 3,-5.6M391.7,439.5c-1,-1.6 -3.6,-1.2 -4.6,0.6M391.7,439.5c1,-1.6 3.6,-1.2 4.6,0.6" stroke="#86abd2" stroke-width="1.3" fill="none" stroke-linecap="round"/>
<rect x="372.6" y="449.0" width="3.0" height="7.0" rx="1.0" fill="#f3ede6"/>
<path d="M374.1,449.5c-0.5,-3 -3,-4.5 -5,-3.4M374.1,449.5c0.5,-3 3,-4.5 5,-3.4M374.1,449.5c-0.4,-3 -2,-5.4 -3,-5.6M374.1,449.5c0.4,-3 2,-5.4 3,-5.6M374.1,449.5c-1,-1.6 -3.6,-1.2 -4.6,0.6M374.1,449.5c1,-1.6 3.6,-1.2 4.6,0.6" stroke="#86abd2" stroke-width="1.3" fill="none" stroke-linecap="round"/>
<rect x="355.4" y="459.0" width="3.0" height="7.0" rx="1.0" fill="#f3ede6"/>
<path d="M356.9,459.5c-0.5,-3 -3,-4.5 -5,-3.4M356.9,459.5c0.5,-3 3,-4.5 5,-3.4M356.9,459.5c-0.4,-3 -2,-5.4 -3,-5.6M356.9,459.5c0.4,-3 2,-5.4 3,-5.6M356.9,459.5c-1,-1.6 -3.6,-1.2 -4.6,0.6M356.9,459.5c1,-1.6 3.6,-1.2 4.6,0.6" stroke="#86abd2" stroke-width="1.3" fill="none" stroke-linecap="round"/>
<polygon points="405.3,406.2 417.1,399.7 453.0,418.4 440.7,427.7" fill="#f0e6e0" stroke="#f0e6e0" stroke-width="3" stroke-linejoin="round" transform="translate(1.6,2.2)"/>
<polygon points="405.3,406.2 417.1,399.7 453.0,418.4 440.7,427.7" fill="#6b3a4c" stroke="#6b3a4c" stroke-width="2.8" stroke-linejoin="round" transform="translate(0,0.6)"/>
<polygon points="405.3,406.2 417.1,399.7 453.0,418.4 440.7,427.7" fill="#4a8b55" stroke="#4a8b55" stroke-width="0.4" stroke-linejoin="round"/>
<polygon points="541.6,481.2 553.9,474.5 589.7,493.4 577.5,503.1" fill="#f0e6e0" stroke="#f0e6e0" stroke-width="3" stroke-linejoin="round" transform="translate(1.6,2.2)"/>
<polygon points="541.6,481.2 553.9,474.5 589.7,493.4 577.5,503.1" fill="#6b3a4c" stroke="#6b3a4c" stroke-width="2.8" stroke-linejoin="round" transform="translate(0,0.6)"/>
<polygon points="541.6,481.2 553.9,474.5 589.7,493.4 577.5,503.1" fill="#4a8b55" stroke="#4a8b55" stroke-width="0.4" stroke-linejoin="round"/>
<line x1="447.5" y1="447.4" x2="469.3" y2="434.7" stroke="#f1ebe6" stroke-width="8.6" stroke-linecap="round"/>
<line x1="445.0" y1="445.2" x2="465.8" y2="433.2" stroke="#4b9554" stroke-width="8.6" stroke-linecap="round"/>
<polygon points="440.7,440.0 440.7,445.2 445.0,445.2 470.1,433.2 470.1,428.0 465.8,428.0" fill="#4b9554" />
<line x1="445.0" y1="440.0" x2="465.8" y2="428.0" stroke="#5fab64" stroke-width="8.6" stroke-linecap="round"/>
<line x1="408.8" y1="469.4" x2="430.3" y2="456.7" stroke="#f1ebe6" stroke-width="8.6" stroke-linecap="round"/>
<line x1="406.3" y1="467.2" x2="426.8" y2="455.2" stroke="#4b9554" stroke-width="8.6" stroke-linecap="round"/>
<polygon points="402.0,462.0 402.0,467.2 406.3,467.2 431.1,455.2 431.1,450.0 426.8,450.0" fill="#4b9554" />
<line x1="406.3" y1="462.0" x2="426.8" y2="450.0" stroke="#5fab64" stroke-width="8.6" stroke-linecap="round"/>
<line x1="514.0" y1="483.9" x2="535.0" y2="471.2" stroke="#f1ebe6" stroke-width="8.6" stroke-linecap="round"/>
<line x1="511.5" y1="481.7" x2="531.5" y2="469.7" stroke="#4b9554" stroke-width="8.6" stroke-linecap="round"/>
<polygon points="507.2,476.5 507.2,481.7 511.5,481.7 535.8,469.7 535.8,464.5 531.5,464.5" fill="#4b9554" />
<line x1="511.5" y1="476.5" x2="531.5" y2="464.5" stroke="#5fab64" stroke-width="8.6" stroke-linecap="round"/>
<line x1="475.2" y1="505.7" x2="496.3" y2="493.0" stroke="#f1ebe6" stroke-width="8.6" stroke-linecap="round"/>
<line x1="472.7" y1="503.5" x2="492.8" y2="491.5" stroke="#4b9554" stroke-width="8.6" stroke-linecap="round"/>
<polygon points="468.4,498.3 468.4,503.5 472.7,503.5 497.1,491.5 497.1,486.3 492.8,486.3" fill="#4b9554" />
<line x1="472.7" y1="498.3" x2="492.8" y2="486.3" stroke="#5fab64" stroke-width="8.6" stroke-linecap="round"/>
<ellipse cx="441.6" cy="380.3" rx="6.0" ry="3.0" fill="#f1ebe6"/>
<circle cx="439.0" cy="376.1" r="6.0" fill="#3f8c4d"/>
<circle cx="438.6" cy="374.9" r="4.3" fill="#57a25f"/>
<ellipse cx="455.6" cy="372.4" rx="6.0" ry="3.0" fill="#f1ebe6"/>
<circle cx="453.0" cy="368.2" r="6.0" fill="#3f8c4d"/>
<circle cx="452.6" cy="367.0" r="4.3" fill="#57a25f"/>
<ellipse cx="534.6" cy="405.2" rx="6.0" ry="3.0" fill="#f1ebe6"/>
<circle cx="532.0" cy="401.0" r="6.0" fill="#3f8c4d"/>
<circle cx="531.6" cy="399.8" r="4.3" fill="#57a25f"/>
<ellipse cx="628.0" cy="485.8" rx="6.0" ry="3.0" fill="#f1ebe6"/>
<circle cx="625.4" cy="481.6" r="6.0" fill="#3f8c4d"/>
<circle cx="625.0" cy="480.4" r="4.3" fill="#57a25f"/>
<ellipse cx="642.4" cy="477.9" rx="6.0" ry="3.0" fill="#f1ebe6"/>
<circle cx="639.8" cy="473.7" r="6.0" fill="#3f8c4d"/>
<circle cx="639.4" cy="472.5" r="4.3" fill="#57a25f"/>
<ellipse cx="576.2" cy="430.0" rx="5.6" ry="2.8" fill="#f1ebe6"/>
<circle cx="573.6" cy="425.8" r="5.6" fill="#3f8c4d"/>
<circle cx="573.2" cy="424.6" r="4.0" fill="#57a25f"/>
<path d="M578,405V441.2a3.9,1.8 0 0 0 7.8,0V402Z" fill="#5a2c42"/>
<path d="M462.8,384.8v4.6M473.8,378.0v4.6" stroke="#2b3d66" stroke-width="1.3"/>
<path d="M464.8,383.2v3.4M475.6,376.6v3.2" stroke="#2b3d66" stroke-width="1"/>
<polygon points="461.2,384.4 474.8,376.8 477.0,378.1 477.0,379.7 463.4,387.3 461.2,386.0" fill="#2b3d66" />
<path d="M487.7,399.9v4.6M498.7,393.1v4.6" stroke="#2b3d66" stroke-width="1.3"/>
<path d="M489.7,398.3v3.4M500.5,391.7v3.2" stroke="#2b3d66" stroke-width="1"/>
<polygon points="486.1,399.5 499.7,391.9 501.9,393.2 501.9,394.8 488.3,402.4 486.1,401.1" fill="#2b3d66" />
<path d="M378.2,478.7v4.6M389.2,471.9v4.6" stroke="#2b3d66" stroke-width="1.3"/>
<path d="M380.2,477.1v3.4M391.0,470.5v3.2" stroke="#2b3d66" stroke-width="1"/>
<polygon points="376.6,478.3 390.2,470.7 392.4,472.0 392.4,473.6 378.8,481.2 376.6,479.9" fill="#2b3d66" />
<path d="M586.7,456.9v4.6M597.7,450.1v4.6" stroke="#2b3d66" stroke-width="1.3"/>
<path d="M588.7,455.3v3.4M599.5,448.7v3.2" stroke="#2b3d66" stroke-width="1"/>
<polygon points="585.1,456.5 598.7,448.9 600.9,450.2 600.9,451.8 587.3,459.4 585.1,458.1" fill="#2b3d66" />
<path d="M612.0,472.1v4.6M623.0,465.3v4.6" stroke="#2b3d66" stroke-width="1.3"/>
<path d="M614.0,470.5v3.4M624.8,463.9v3.2" stroke="#2b3d66" stroke-width="1"/>
<polygon points="610.4,471.7 624.0,464.1 626.2,465.4 626.2,467.0 612.6,474.6 610.4,473.3" fill="#2b3d66" />
<ellipse cx="533" cy="508" rx="19" ry="10.4" fill="#f1ebe6"/>
<ellipse cx="527" cy="506.8" rx="19.3" ry="10.8" fill="#6b3a4c"/>
<ellipse cx="527" cy="505" rx="17.6" ry="9.6" fill="#e9ddd0"/>
<ellipse cx="527" cy="503.2" rx="15.6" ry="8" fill="#7399be"/>
<rect x="524.5" y="493.1" width="5.1" height="11.9" rx="1.7" fill="#f3ede6"/>
<path d="M527.0,493.9c-0.5,-3 -3,-4.5 -5,-3.4M527.0,493.9c0.5,-3 3,-4.5 5,-3.4M527.0,493.9c-0.4,-3 -2,-5.4 -3,-5.6M527.0,493.9c0.4,-3 2,-5.4 3,-5.6M527.0,493.9c-1,-1.6 -3.6,-1.2 -4.6,0.6M527.0,493.9c1,-1.6 3.6,-1.2 4.6,0.6" stroke="#86abd2" stroke-width="2.2" fill="none" stroke-linecap="round"/>
</g>
<!-- phone -->
<g>
<defs>
<linearGradient id="discg" x1="0" x2="1" y1="0" y2="0"><stop offset="0" stop-color="#f8c51a"/><stop offset="0.55" stop-color="#f7d21c"/><stop offset="1" stop-color="#f4e62a"/></linearGradient>
<linearGradient id="ringg" x1="0" x2="1" y1="0" y2="0"><stop offset="0" stop-color="#2a3590"/><stop offset="0.5" stop-color="#2560b8"/><stop offset="1" stop-color="#1d95dc"/></linearGradient>
</defs>
<!-- man shadow -->
<ellipse cx="113.7" cy="451.6" rx="19.6" ry="9.2" fill="#d8d2c9"/>
<!-- man -->
<g>
 <!-- back leg -->
 <path d="M106,404L117,405L112,425L104,441L100,439L106,422Z" fill="#e8620e"/>
 <path d="M100.4,438.6L105,441.2L108.6,445.6Q108,447.4 105.6,446.6L99.6,442.4Z" fill="#1a1a22"/>
 <!-- front leg -->
 <path d="M108,404L121.6,404.6L119.6,428L119.4,452.6L114,452L111.6,428Z" fill="#f07012"/>
 <path d="M114,451.4L119.6,452L125,455.4Q125.6,457.6 123,457.6L114.6,455.6Z" fill="#1a1a22"/>
 <!-- torso -->
 <path d="M104,377.6Q109,372.6 118,373.4Q123,374.4 122.8,380L122.6,405.4L104.6,405Z" fill="#3a3a9c"/>
 <!-- black arms -->
 <path d="M104.4,377.4Q101.4,380 102,388L103.6,396.6L108,395.6L107.4,384Z" fill="#15151c"/>
 <path d="M119.6,375Q123.6,376 124,382L124.6,390L131.6,390.6L131.4,393.6L121.6,394.6L119,386Z" fill="#15151c"/>
 <path d="M121.4,394L124.4,393.6L126,402.6L123.4,403.4Z" fill="#15151c"/>
 <ellipse cx="125.2" cy="404.6" rx="1.6" ry="2" fill="#a0705a"/>
 <path d="M131,390.2L136.6,390.8L136,393.4L131,393.6Z" fill="#a0705a"/>
 <path d="M133,389.6L141,388.6L141.4,390L134,391.6Z" fill="#e8e8f0"/>
 <!-- collar + head -->
 <path d="M110.4,373.6L117.6,372.6L118.6,376.4L114.6,378L111,376.6Z" fill="#f1f1f5"/>
 <path d="M110.6,364.6h7.8v7.6q-1.6,3.4 -4.6,3.4q-2.6,-0.6 -3.2,-3.4z" fill="#a0705a"/>
 <path d="M106.8,364.4Q106,355.6 114.4,355.6Q122.4,356 121.4,364.8Q121,367.6 119,367.2Q118.6,363.6 116,363.4Q111.6,363 110.8,367Q107.4,368 106.8,364.4Z" fill="#121218"/>
</g>
<!-- pointer -->
<polygon points="144.6,378.6 130.9,391 143,389.9" fill="#27328c"/>
<!-- disc -->
<circle cx="199.8" cy="384.2" r="57.6" fill="url(#discg)"/>
<!-- finger behind phone -->
<path d="M226,384L233.6,368.6Q238,365.6 240.4,369Q241.2,372 238.6,375L229.6,390Z" fill="#a88a7c"/>
<!-- palm / hand -->
<path d="M165.2,379.6Q163.4,381 162.6,386L158,414Q154.4,440 156.4,456L152.4,466L193.2,479.8L201.6,468.6Q214,452.6 222.6,440L227.6,430L224,404L172.6,404L171.4,384Q169.4,378.6 165.2,379.6Z" fill="#a88a7c"/>
<path d="M193.2,479.8L201.6,468.6L207,459L196,472Z" fill="#8f7366"/>
<path d="M163.2,380.6Q165.6,378.6 168.6,380L169.6,386.6L163.2,387.6Z" fill="#f7f3ef"/>
<!-- sleeve -->
<polygon points="152,464.8 193.2,479.4 182.4,503.2 128.2,505.4" fill="#08080a"/>
<!-- phone -->
<rect x="172.3" y="317.2" width="56.8" height="114.8" rx="3.4" fill="#0c0c12"/>
<rect x="174.4" y="322.4" width="52.8" height="12.2" fill="#1f2d5c"/>
<rect x="174.4" y="334.4" width="52.8" height="87.8" fill="#fbfcfe"/>
<rect x="174.4" y="422" width="52.8" height="6.6" fill="#1f2d5c"/>
<rect x="195.6" y="319.2" width="14.4" height="1.1" rx="0.5" fill="#8a8d96"/>
<circle cx="192" cy="319.8" r="0.6" fill="#8a8d96"/>
<!-- header row -->
<path d="M180,339.4h5.4M180,341.2h5.4" stroke="#39456f" stroke-width="0.6"/>
<rect x="192.8" y="336.8" width="14.6" height="7.4" rx="2.6" fill="#e7eaf1"/>
<rect x="210" y="336.8" width="14.6" height="7.4" rx="2.6" fill="#e7eaf1"/>
<path d="M198,340.5h4.4M215,340.5h4.4" stroke="#b3b9c9" stroke-width="0.6"/>
<text x="177" y="350.6" style="font-size:4.3px" fill="#27345f">Incidents</text>
<g id="cards">
 <g>
  <rect x="176.6" y="352.8" width="48.4" height="11.4" rx="0.8" fill="#f4f6fa"/>
  <rect x="177.4" y="353.6" width="6.4" height="9.8" rx="0.6" fill="#e4e8f0"/>
  <path d="M179,355.6h3" stroke="#b3b9c9" stroke-width="0.5"/>
  <path d="M187.6,355.4h5" stroke="#8b93ab" stroke-width="0.5"/>
  <path d="M187.6,358.4h27" stroke="#2b3a6e" stroke-width="1"/>
  <rect x="221" y="353.4" width="3" height="10.2" rx="0.6" fill="#e6b3b9"/>
 </g>
 <g transform="translate(0,13.2)">
  <rect x="176.6" y="352.8" width="48.4" height="11.4" rx="0.8" fill="#f4f6fa"/>
  <rect x="177.4" y="353.6" width="6.4" height="9.8" rx="0.6" fill="#e4e8f0"/>
  <path d="M179,355.6h3" stroke="#b3b9c9" stroke-width="0.5"/>
  <path d="M187.6,355.4h5" stroke="#8b93ab" stroke-width="0.5"/>
  <path d="M187.6,358.4h27" stroke="#2b3a6e" stroke-width="1"/>
  <rect x="221" y="353.4" width="3" height="10.2" rx="0.6" fill="#e6b3b9"/>
 </g>
 <g transform="translate(0,26.4)">
  <rect x="176.6" y="352.8" width="48.4" height="11.4" rx="0.8" fill="#f4f6fa"/>
  <rect x="177.4" y="353.6" width="6.4" height="9.8" rx="0.6" fill="#e4e8f0"/>
  <path d="M179,355.6h3" stroke="#b3b9c9" stroke-width="0.5"/>
  <path d="M187.6,355.4h5" stroke="#8b93ab" stroke-width="0.5"/>
  <path d="M187.6,358.4h27" stroke="#2b3a6e" stroke-width="1"/>
  <rect x="221" y="353.4" width="3" height="10.2" rx="0.6" fill="#e6b3b9"/>
 </g>
 <g transform="translate(0,39.6)">
  <rect x="176.6" y="352.8" width="48.4" height="11.4" rx="0.8" fill="#f4f6fa"/>
  <rect x="177.4" y="353.6" width="6.4" height="9.8" rx="0.6" fill="#e4e8f0"/>
  <path d="M179,355.6h3" stroke="#b3b9c9" stroke-width="0.5"/>
  <path d="M187.6,355.4h5" stroke="#8b93ab" stroke-width="0.5"/>
  <path d="M187.6,358.4h27" stroke="#2b3a6e" stroke-width="1"/>
  <rect x="221" y="353.4" width="3" height="10.2" rx="0.6" fill="#e6b3b9"/>
 </g>
</g>
<rect x="177.9" y="408.6" width="46.2" height="8.2" rx="4.1" fill="#23326a"/>
<circle cx="182.6" cy="412.7" r="2.2" fill="none" stroke="#dfe4f2" stroke-width="0.5"/>
<path d="M182.6,411.6v1.4" stroke="#dfe4f2" stroke-width="0.5"/>
<text x="188" y="414" style="font-weight:bold;font-size:3.6px" fill="#ffffff">Report Incident</text>
<!-- fingers over phone right edge -->
<g fill="#a88a7c">
 <ellipse cx="229.6" cy="398.2" rx="6.4" ry="4.6" transform="rotate(-20 229.6 398.2)"/>
 <ellipse cx="230.2" cy="407.6" rx="6.6" ry="4.8" transform="rotate(-20 230.2 407.6)"/>
 <ellipse cx="230" cy="417" rx="6.4" ry="4.8" transform="rotate(-20 230 417)"/>
 <path d="M224,400h5v28l-3.6,4h-1.4z"/>
</g>
<g fill="#f4efeb">
 <ellipse cx="230" cy="396.8" rx="3.6" ry="2.7" transform="rotate(-25 230 396.8)"/>
 <ellipse cx="231" cy="406.4" rx="3.6" ry="2.7" transform="rotate(-25 231 406.4)"/>
 <ellipse cx="231" cy="416" rx="3.6" ry="2.7" transform="rotate(-25 231 416)"/>
</g>
<!-- ring on top -->
<circle cx="199.8" cy="384.2" r="57.6" fill="none" stroke="url(#ringg)" stroke-width="2.4"/>
<!-- lone tree on the left -->
<ellipse cx="59" cy="362.4" rx="5.6" ry="2.8" fill="#f1ebe6"/>
<rect x="55.2" y="348" width="2.4" height="15" fill="#5a2c42"/>
<g transform="translate(56.4,327.8) scale(1.22,1.0)"><path d="M0,0C2.6,0 3.4,3 4.8,8.6q1.1,1.2 0.2,1.8L6.9,15.8q1.1,1.3 0.2,1.9L8.6,22q0.6,2.8 -2.4,2.8H-6.2q-3,0 -2.4,-2.8L-7.1,17.7q-0.9,-0.6 0.2,-1.9L-5,10.4q-0.9,-0.6 0.2,-1.8C-3.4,3 -2.6,0 0,0Z" fill="#4a8b55"/></g>
<ellipse cx="56.4" cy="330.6" rx="2" ry="2.1" fill="#5faa63"/>

</g>
<!-- security -->
<g>
<g transform="translate(495,575) scale(0.17995)">
<ellipse cx="385" cy="624" rx="322" ry="122" fill="#85839e" opacity="0.42"/>
<polygon points="58,692 130,655 262,722 198,762" fill="#c3c8d8"/>
<!-- desk -->
<polygon points="105,368 125,378 125,425 105,415" fill="#dfe4ee"/>
<polygon points="430,556 565,478 565,622 430,697" fill="#bcc3d3"/>
<polygon points="444,566 552,503 552,612 444,674" fill="#cdd3e0"/>
<polygon points="418,552 432,558 432,697 418,690" fill="#aab2c6"/>
<polygon points="100,350 250,265 575,455 430,540" fill="#e1e6f0"/>
<polygon points="100,350 430,540 430,562 100,372" fill="#c9cfdc"/>
<polygon points="430,540 575,455 575,478 430,562" fill="#b4bccf"/>
<!-- monitor -->
<polygon points="298,320 312,310 480,404 470,422" fill="#1c2438"/>
<polygon points="258,66 268,60 534,200 528,206" fill="#2f3d60"/>
<polygon points="258,66 528,206 525,432 262,290" fill="#1f2a44"/>
<polygon points="270,90 516,218 514,410 273,280" fill="#8f9dfc"/>
<g stroke="#e4e8ff" stroke-width="3" fill="none"><path d="M351,132 L352,322"/><path d="M432,174 L432,366"/><path d="M271,152 L515,281"/><path d="M272,215 L515,345"/></g>
<rect x="334" y="200" width="8" height="3" fill="#e0283a"/>
<!-- keyboard, mouse -->
<polygon points="240,396 290,370 412,438 360,468" fill="#2b3350"/>
<g stroke="#4a5478" stroke-width="2"><path d="M256,398 L372,462"/><path d="M268,390 L384,454"/><path d="M280,382 L398,446"/></g>
<polygon points="385,478 426,458 456,475 415,498" fill="#3a4566"/>
<!-- chair base -->
<g stroke="#9a9ea8" stroke-width="7" stroke-linecap="round"><path d="M175,648 L82,680"/><path d="M175,648 L130,728"/><path d="M175,648 L222,720"/><path d="M175,648 L246,664"/><path d="M175,600 L175,650"/></g>
<!-- man legs -->
<path d="M200,520 Q260,500 296,520 L300,600 L292,636 L262,640 L262,560 L215,575Z" fill="#1f2c5c"/>
<path d="M225,600 L262,590 L262,630 L232,640Z" fill="#1a2550"/>
<path d="M262,636 Q295,622 318,634 L316,652 Q290,668 264,660Z" fill="#1a1f2e"/>
<path d="M222,622 Q240,612 258,622 L256,640 Q238,646 222,638Z" fill="#1a1f2e"/>
<!-- torso -->
<path d="M140,400 Q150,370 190,368 Q225,372 240,410 L262,460 L318,452 L326,468 L262,492 L240,470 L246,540 L190,556 L150,520Z" fill="#1f2c5c"/>
<path d="M318,446 Q338,438 346,452 L338,466 L322,466Z" fill="#f3c9a6"/>
<path d="M204,340 h26 v26 l-10,12 -16,-8z" fill="#f3c9a6"/>
<path d="M168,340 Q166,302 198,300 Q226,304 226,330 L224,348 L210,338 L204,362 Q176,370 168,340Z" fill="#1a1f2e"/>
<!-- chair back -->
<path d="M70,408 Q72,394 92,396 L182,448 Q190,454 188,466 L182,628 Q180,642 166,636 L86,592 Q78,588 78,576Z" fill="#1f242e"/>
<path d="M70,408 Q72,394 92,396 L100,402 L104,600 L86,592 Q78,588 78,576Z" fill="#343b4a"/>
<path d="M180,600 Q170,570 200,552 L250,528 Q272,522 270,545 L262,580" fill="none" stroke="#eef0f4" stroke-width="7"/>
<path d="M182,600 L262,575 L262,600 L200,625Z" fill="#2b3240"/>
</g>

</g>
<!-- cctv -->
<g>
<defs>
<linearGradient id="beam" x1="0" x2="0" y1="0" y2="1"><stop offset="0" stop-color="#b4b2b8" stop-opacity="0.95"/><stop offset="0.35" stop-color="#c9c6ca" stop-opacity="0.8"/><stop offset="0.7" stop-color="#dddcde" stop-opacity="0.55"/><stop offset="1" stop-color="#f2f2f2" stop-opacity="0"/></linearGradient>
</defs>
<g transform="translate(620,505) scale(0.25197)">
<polygon points="190,198 236,198 455,398 192,512" fill="url(#beam)"/>
<g fill="#d9cfc9" opacity="0.5"><polygon points="191,255 285,243 300,256 191,272"/><polygon points="191,318 352,302 372,320 191,342"/><polygon points="191,385 420,366 440,384 191,412"/></g>
<!-- shadows -->
<ellipse cx="306" cy="770" rx="106" ry="42" fill="#8a86a0" opacity="0.42"/>
<ellipse cx="505" cy="712" rx="92" ry="37" fill="#8a86a0" opacity="0.42"/>
<!-- camera -->
<path d="M62,148 L100,135 L128,165 L122,188 L85,192 L60,165Z" fill="#b4c0dc"/>
<path d="M62,148 L85,170 L85,192 L60,165Z" fill="#98a6c8"/>
<path d="M88,86 Q92,70 108,66 L160,54 Q176,52 186,62 L240,108 Q248,118 236,124 L176,142 Q164,144 156,136Z" fill="#e1e6f2"/>
<path d="M88,86 L156,136 Q166,144 176,142 L160,190 Q150,196 142,188 L84,136 Q78,128 80,118Z" fill="#c3cadd"/>
<path d="M176,142 L236,124 Q248,120 246,134 L238,168 Q234,182 220,186 L166,198 Q152,200 156,186 L164,154 Q168,144 176,142Z" fill="#2b3055"/>
<circle cx="205" cy="162" r="24" fill="#e4eaf6"/>
<circle cx="206" cy="163" r="16" fill="#9fb2dc"/>
<circle cx="207" cy="164" r="8" fill="#5a70a8"/>
<circle cx="162" cy="186" r="3.4" fill="#e0283a"/>
<!-- standing woman (back view) -->
<path d="M478,562 L532,566 L526,640 L524,704 L506,706 L504,640 L500,706 L484,704 L482,640Z" fill="#9fcbe6"/>
<path d="M474,704 Q490,698 504,708 L502,724 Q488,728 474,718Z" fill="#1f3a5a"/>
<path d="M506,700 Q518,696 528,704 L526,716 Q514,718 506,712Z" fill="#1f3a5a"/>
<path d="M470,492 Q486,474 520,478 Q540,490 538,540 L532,584 Q506,592 478,580 Q468,540 470,492Z" fill="#f0b422"/>
<path d="M466,486 Q470,478 480,482 L484,540 L474,548Z" fill="#f3c9a6"/>
<path d="M492,484 Q520,470 538,488 Q550,520 542,552 Q520,566 496,556 Q486,520 492,484Z" fill="#7a3a1e"/>
<path d="M492,484 Q500,478 506,484 L510,556 L496,556 Q486,520 492,484Z" fill="#5f2a14"/>
<path d="M496,458 h24 v22 h-24z" fill="#f3c9a6"/>
<path d="M488,446 Q488,416 510,416 Q534,420 530,450 Q528,470 518,478 L516,458 Q500,452 492,462Z" fill="#1f4a6a"/>
<path d="M506,452 Q522,456 524,476 L516,492 L510,470Z" fill="#2a1f24"/>
<!-- walking man -->
<path d="M288,600 L348,604 L350,660 L330,700 L318,760 L298,756 L300,690 L290,650Z" fill="#16253f"/>
<path d="M318,640 L350,650 L340,700 L300,740 L288,728 L318,690Z" fill="#1d3050"/>
<path d="M276,716 Q290,712 298,726 L296,760 Q284,764 278,750Z" fill="#d8283a"/>
<path d="M296,760 Q312,754 322,766 L332,788 Q322,798 308,790Z" fill="#d8283a"/>
<path d="M268,540 Q278,510 318,506 Q346,510 352,540 L350,606 Q318,616 286,604 Q262,580 268,540Z" fill="#f4f5f8"/>
<path d="M346,528 Q360,540 372,576 L384,592 L374,600 L356,584 L344,560Z" fill="#e9ebf2"/>
<path d="M378,590 Q390,592 390,606 L382,614 L374,602Z" fill="#f3c9a6"/>
<path d="M282,552 L312,540 L326,586 L300,618 L280,596Z" fill="#c9ccd4"/>
<path d="M282,552 L288,550 L304,612 L300,618Z" fill="#9a9ea8"/>
<path d="M268,540 Q262,570 282,600 L296,604 L300,590 L284,570Z" fill="#e9ebf2"/>
<path d="M300,590 Q314,584 322,594 L316,606 L302,604Z" fill="#f3c9a6"/>
<path d="M308,474 h30 v28 q-6,12 -18,12 q-10,-4 -12,-14z" fill="#f3c9a6"/>
<path d="M304,476 Q304,454 324,454 Q344,458 340,482 L334,478 Q322,470 312,480 L310,490Z" fill="#5a2a1a"/>
<path d="M318,488 h22" stroke="#3a3a4a" stroke-width="2.4"/>
</g>

</g>
<!-- protest -->
<g>
<g transform="translate(95,595) scale(0.20508)">
<g fill="#cdcfdf">
<ellipse cx="137" cy="458" rx="100" ry="42"/><ellipse cx="392" cy="470" rx="100" ry="40"/><ellipse cx="575" cy="468" rx="92" ry="38"/>
<ellipse cx="702" cy="358" rx="100" ry="40"/><ellipse cx="500" cy="566" rx="100" ry="40"/><ellipse cx="718" cy="578" rx="100" ry="40"/><ellipse cx="908" cy="530" rx="100" ry="40"/>
</g>
<!-- police -->
<path d="M100,420 L128,418 L132,452 Q134,470 118,476 L100,466Z" fill="#2b2f3a"/>
<path d="M132,414 L156,410 L162,448 Q160,460 146,460 L134,450Z" fill="#2b2f3a"/>
<path d="M98,300 L160,296 L158,360 L152,415 L132,418 L130,370 L126,420 L102,422 L104,360Z" fill="#4a5ad8"/>
<path d="M100,310 L130,306 L128,420 L102,422 L106,360Z" fill="#b9c9ea"/>
<ellipse cx="148" cy="362" rx="12" ry="16" fill="#22252e"/><ellipse cx="116" cy="376" rx="11" ry="14" fill="#9aa6c4"/>
<path d="M84,215 Q100,192 140,196 Q162,204 160,240 L158,300 L98,304 Q80,260 84,215Z" fill="#3a3f4a"/>
<path d="M82,222 Q92,205 108,212 L100,250 L80,262Z" fill="#3a4ad0"/>
<path d="M156,250 L170,290 L186,300 L180,312 L160,300 L150,270Z" fill="#3a4ad0"/>
<path d="M176,296 Q190,292 192,308 L184,318 L174,310Z" fill="#22252e"/>
<path d="M186,300 L217,214" stroke="#2b2f3a" stroke-width="5" stroke-linecap="round"/>
<path d="M68,262 Q66,244 84,240 L126,262 L128,310 L72,286Z" fill="#aebbd8" opacity="0.85"/>
<path d="M122,165 h28 v24 l-12,10 -16,-8z" fill="#f3c9a6"/>
<path d="M106,166 Q104,140 128,140 Q150,142 150,164 L146,172 L122,168 L118,182 Q106,180 106,166Z" fill="#2b2f3a"/>
<path d="M128,172 h22 v10 h-22z" fill="#e8ecf4" opacity="0.8"/>
<!-- C: yellow top, back row -->
<path d="M636,380 Q652,372 668,384 L664,402 Q648,406 636,396Z" fill="#3a4ad8"/>
<path d="M682,348 Q694,344 702,352 L700,364 L684,362Z" fill="#3a4ad8"/>
<path d="M668,210 L726,212 L724,290 L712,350 L692,350 L696,290 L680,380 L656,378 L664,290Z" fill="#4a4e58"/>
<path d="M652,150 Q670,124 712,128 Q742,140 740,180 L730,214 L668,216 Q655,200 660,190 L640,206 L636,194 L660,172Z" fill="#f0c020"/>
<path d="M636,194 L646,190 L648,204 L638,206Z" fill="#f3c9a6"/>
<path d="M678,96 h30 v26 l-14,10 -16,-8z" fill="#f3c9a6"/>
<path d="M672,100 Q670,74 696,74 Q720,78 718,104 L712,124 L700,108 Q686,100 680,112Z" fill="#6a3a24"/>
<!-- placard (mid) -->
<polygon points="612,242 690,206 690,272 612,308" fill="#f1f1f3"/>
<path d="M655,286 L655,416" stroke="#4a6ad8" stroke-width="7"/>
<!-- A: green top -->
<path d="M352,484 Q370,476 388,488 L384,502 Q366,506 352,498Z" fill="#3a4ad8"/>
<path d="M406,456 Q422,450 438,460 L436,474 Q420,476 406,470Z" fill="#3a4ad8"/>
<path d="M384,298 L446,300 L444,380 L438,460 L414,460 L416,380 L404,400 L390,486 L366,484 L378,390Z" fill="#5a5ad8"/>
<path d="M340,226 L356,222 L372,250 L400,222 Q440,214 458,240 Q466,270 458,300 L386,304 L382,268 L362,276 Q344,256 340,226Z" fill="#8cc63f"/>
<path d="M340,210 Q350,204 356,214 L356,226 L342,228Z" fill="#f3c9a6"/>
<path d="M404,186 h28 v24 l-12,10 -16,-8z" fill="#f3c9a6"/>
<path d="M404,192 Q400,166 426,166 Q450,170 446,198 L440,216 L430,200 Q416,190 408,204Z" fill="#6a3a24"/>
<!-- sign + B: orange top -->
<polygon points="475,82 566,36 566,114 475,160" fill="#f1f1f3"/>
<path d="M520,140 L520,258" stroke="#4a6ad8" stroke-width="7"/>
<path d="M538,474 Q554,468 570,478 L568,490 Q552,494 538,486Z" fill="#3a4ad8"/>
<path d="M566,460 Q580,456 594,464 L592,476 Q578,480 566,472Z" fill="#3a4ad8"/>
<path d="M544,328 L604,330 L598,400 L592,466 L570,466 L572,400 L562,476 L540,474 L540,400Z" fill="#5a5ad8"/>
<path d="M516,196 L530,192 L544,232 Q580,214 606,240 Q612,290 600,336 L544,334 L540,270 Q522,240 516,196Z" fill="#e8762a"/>
<path d="M514,180 Q524,174 530,184 L530,196 L516,198Z" fill="#f3c9a6"/>
<path d="M556,190 h30 v24 l-12,12 -18,-8z" fill="#f3c9a6"/>
<path d="M556,196 Q552,170 578,170 Q602,174 600,198 L594,214 L584,204 Q570,194 562,206 L558,218Z" fill="#6a3a24"/>
<!-- D: light-blue top (front) -->
<path d="M466,566 Q482,558 498,568 L496,580 Q480,584 466,576Z" fill="#3a4ad8"/>
<path d="M496,552 Q510,548 524,556 L522,568 Q508,570 496,564Z" fill="#3a4ad8"/>
<path d="M462,424 L536,426 L530,500 L524,556 L502,556 L504,490 L494,566 L470,562 L460,490Z" fill="#4a4e58"/>
<path d="M468,338 Q490,312 530,316 Q552,330 548,380 L540,430 L462,430 L464,400 L450,418 L444,410 L466,380Z" fill="#6aa8e8"/>
<path d="M488,282 h30 v26 l-12,10 -18,-8z" fill="#f3c9a6"/>
<path d="M490,288 Q486,262 512,262 Q534,266 530,292 L524,306 L516,294 Q502,284 494,296Z" fill="#6a3a24"/>
<!-- E: yellow top, long hair (front) -->
<path d="M662,596 Q678,588 696,600 L692,612 Q676,616 662,608Z" fill="#3a4ad8"/>
<path d="M716,566 Q732,560 750,570 L748,582 Q732,586 716,578Z" fill="#3a4ad8"/>
<path d="M696,408 L768,412 L762,490 L748,572 L722,570 L730,490 L716,520 L700,600 L674,596 L690,500Z" fill="#5a5ad8"/>
<path d="M650,372 L664,366 L690,380 Q712,336 760,342 Q780,360 774,400 L766,416 L694,414 L690,404 L664,396Z" fill="#f0c020"/>
<path d="M648,358 Q658,352 664,362 L664,372 L650,374Z" fill="#f3c9a6"/>
<path d="M708,300 h26 v30 h-26z" fill="#f3c9a6"/>
<path d="M706,300 Q704,278 730,278 Q758,284 756,316 L758,336 L730,334 L732,306 Q720,296 712,306Z" fill="#7a4a34"/>
<!-- F: green top, flag -->
<path d="M800,70 L800,238" stroke="#e4e6ec" stroke-width="5"/>
<polygon points="802,76 848,60 848,52 882,46 882,112 846,120 846,128 802,146" fill="#e8762a"/>
<path d="M858,526 Q874,518 890,528 L888,540 Q872,544 858,536Z" fill="#3a4ad8"/>
<path d="M890,514 Q902,510 916,518 L914,528 Q900,532 890,526Z" fill="#3a4ad8"/>
<path d="M858,360 L922,362 L916,440 L914,516 L892,516 L894,440 L884,470 L886,528 L862,526 L848,440Z" fill="#4a4e58"/>
<path d="M800,250 L816,244 L846,290 Q880,262 924,276 Q944,300 936,350 L926,368 L858,364 L862,310 L834,304Z" fill="#8cc63f"/>
<path d="M794,238 Q804,232 810,242 L812,252 L798,254Z" fill="#f3c9a6"/>
<path d="M880,244 h28 v26 l-12,8 -16,-6z" fill="#f3c9a6"/>
<path d="M880,250 Q876,224 902,224 Q926,228 920,256 L914,270 L906,256 Q894,246 886,258Z" fill="#6a3a24"/>
</g>

</g>
<!-- text -->
<g>
<text class="h" x="336.8" y="39">Remote R&amp;D Facilities</text>
<text class="b" x="336.8" y="56">Ensure checks happen to protect people in remote</text>
<text class="b" x="336.8" y="67.6">locations with Halo Task Manager</text>

<text class="h" x="270.7" y="327.8">Lone workers</text>
<text class="b" x="270.7" y="343.8">Empower students and staff to report</text>
<text class="b" x="270.7" y="355.6">incidents and concerns with Halo</text>
<text class="b" x="270.7" y="367.3">Public Reporting</text>

<text class="h" x="93.2" y="544.8">Freedom of Speech</text>
<text class="b" x="93.2" y="561.3">Manage, track and report on events and protests</text>
<text class="b" x="93.2" y="573.2">with halo Incident Manager. And safely process</text>
<text class="b" x="93.2" y="585.1">intelligence with Halo Bulleting board</text>

<text class="h" x="356.8" y="544.8">Campus Security</text>
<text class="b" x="356.8" y="561.3">Promote best practice in your security</text>
<text class="b" x="356.8" y="573.2">operations with halo Incident Manager</text>

<text class="h" x="785.4" y="582.3">Health and Safety</text>
<text class="b" x="785.4" y="599.2">Set up and track routine tasks to</text>
<text class="b" x="785.4" y="610.9">ensure high risk areas are checked,</text>
<text class="b" x="785.4" y="622.7">validated and reported on with Halo</text>
<text class="b" x="785.4" y="634.4">Task Manager. Specify and capture</text>
<text class="b" x="785.4" y="646.1">bespoke data with Halo Custom</text>
<text class="b" x="785.4" y="657.6">Form Builder</text>

<text class="h" x="740" y="244.6">Student</text>
<text class="h" x="740" y="259.5">Wellbeing</text>
<text class="b" x="740" y="276.8">Quickly and effciently</text>
<text class="b" x="740" y="288.6">deploy team members</text>
<text class="b" x="740" y="300.3">to the places where they</text>
<text class="b" x="740" y="311.9">are needed with the Halo</text>
<text class="b" x="740" y="323.7">Mobile App</text>

<text class="b" x="894.2" y="194.6">Use exact map</text>
<text class="b" x="894.2" y="206.2">location pins to</text>
<text class="b" x="894.2" y="217.1">increase effciency in</text>
<text class="b" x="894.2" y="228.8">deployment of people</text>

</g>

</svg>
</body></html>
